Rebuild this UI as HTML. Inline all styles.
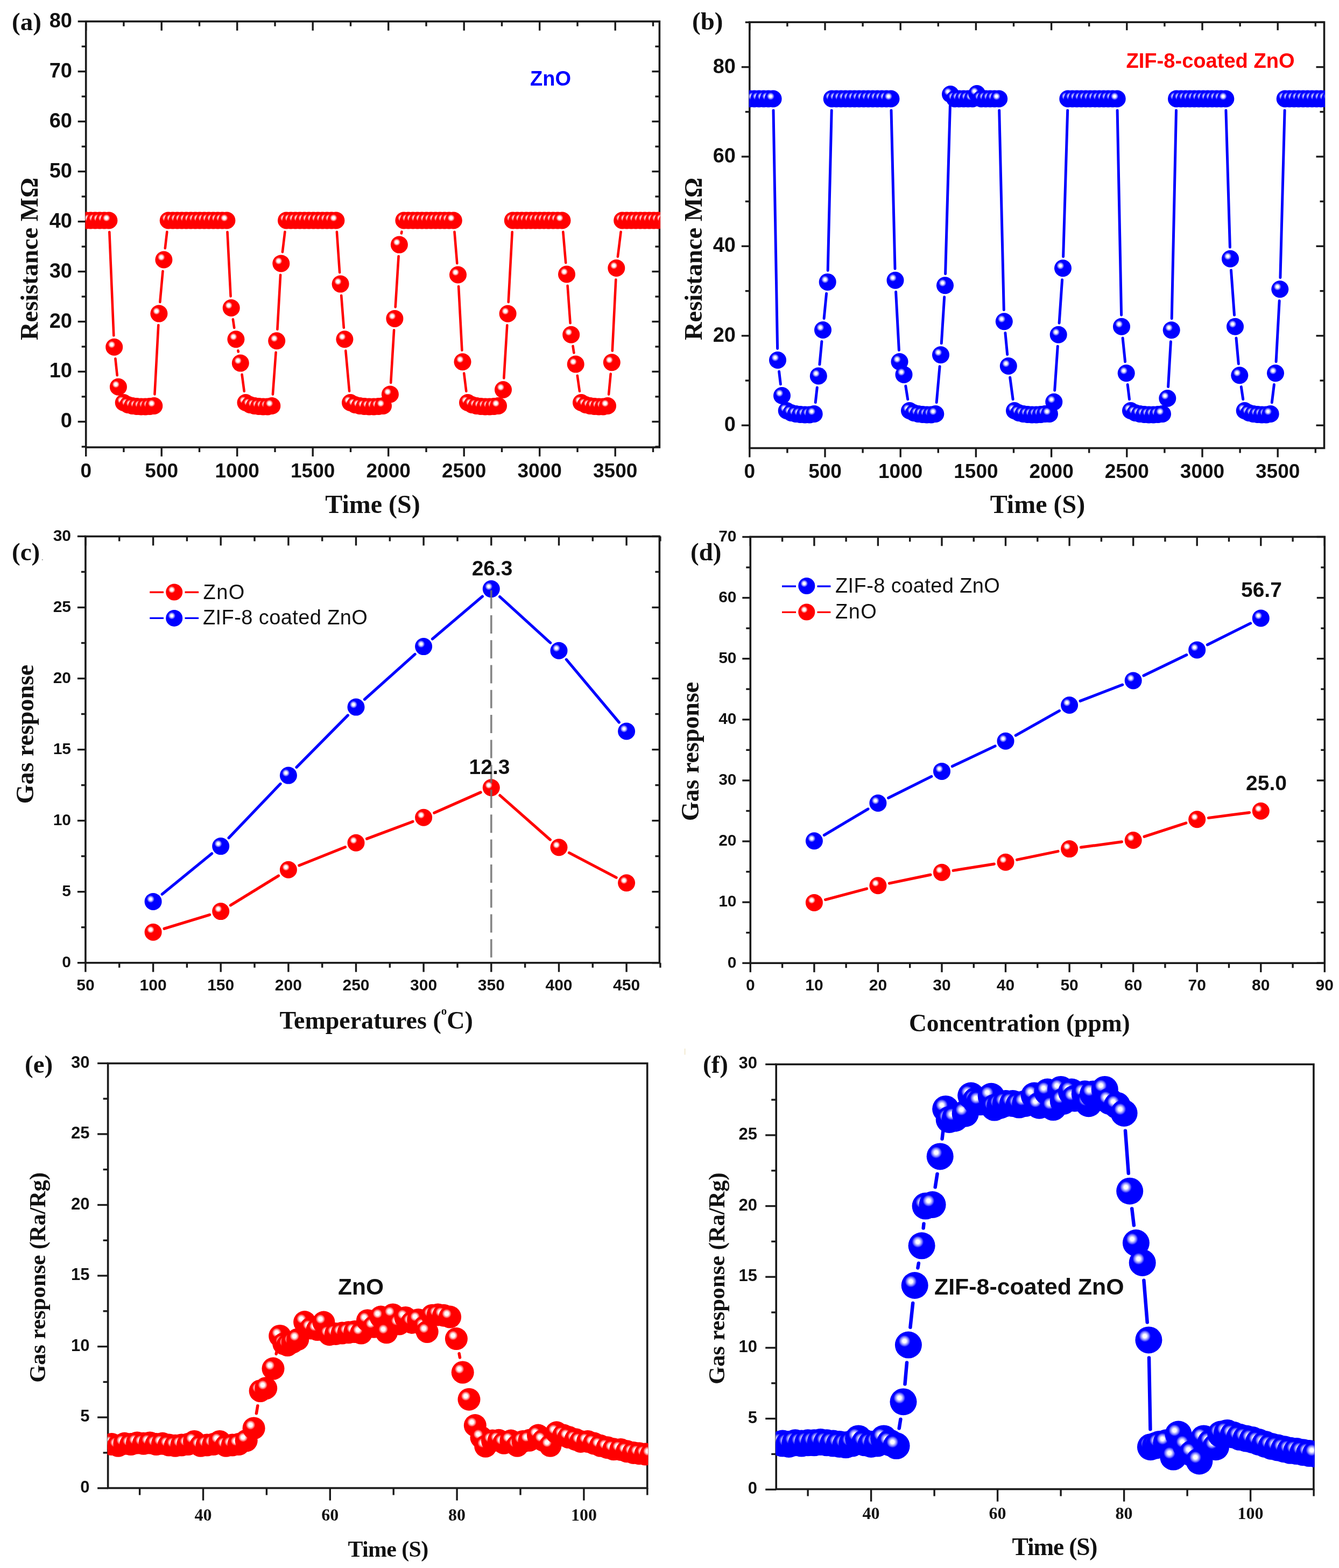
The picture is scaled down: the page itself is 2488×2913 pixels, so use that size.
<!DOCTYPE html>
<html><head><meta charset="utf-8"><title>Gas sensing figure</title>
<style>html,body{margin:0;padding:0;background:#fff;overflow:hidden;}svg{display:block;}</style></head>
<body><svg width="2488" height="2913" viewBox="0 0 2488 2913">
<rect width="2488" height="2913" fill="#fff"/>
<defs>
<radialGradient id="gR" cx="0.355" cy="0.355" r="0.21">
<stop offset="0" stop-color="#ffffff"/><stop offset="0.38" stop-color="#ffffff"/><stop offset="0.7" stop-color="#ff9090"/><stop offset="1" stop-color="#ff0000"/>
</radialGradient>
<radialGradient id="gB" cx="0.355" cy="0.355" r="0.22">
<stop offset="0" stop-color="#ffffff"/><stop offset="0.3" stop-color="#ffffff"/><stop offset="0.65" stop-color="#9090ff"/><stop offset="1" stop-color="#0000ff"/>
</radialGradient>
</defs>
<clipPath id="ca"><rect x="158.7" y="39.8" width="1068.2" height="791.2"/></clipPath>
<rect x="159.7" y="39.8" width="1065.7" height="791.2" fill="none" stroke="#1a1a1a" stroke-width="3.6"/>
<line x1="144.7" y1="783.4" x2="159.7" y2="783.4" stroke="#1a1a1a" stroke-width="3.4"/>
<line x1="144.7" y1="690.4" x2="159.7" y2="690.4" stroke="#1a1a1a" stroke-width="3.4"/>
<line x1="144.7" y1="597.5" x2="159.7" y2="597.5" stroke="#1a1a1a" stroke-width="3.4"/>
<line x1="144.7" y1="504.5" x2="159.7" y2="504.5" stroke="#1a1a1a" stroke-width="3.4"/>
<line x1="144.7" y1="411.6" x2="159.7" y2="411.6" stroke="#1a1a1a" stroke-width="3.4"/>
<line x1="144.7" y1="318.6" x2="159.7" y2="318.6" stroke="#1a1a1a" stroke-width="3.4"/>
<line x1="144.7" y1="225.7" x2="159.7" y2="225.7" stroke="#1a1a1a" stroke-width="3.4"/>
<line x1="144.7" y1="132.8" x2="159.7" y2="132.8" stroke="#1a1a1a" stroke-width="3.4"/>
<line x1="144.7" y1="39.8" x2="159.7" y2="39.8" stroke="#1a1a1a" stroke-width="3.4"/>
<line x1="151.7" y1="829.9" x2="159.7" y2="829.9" stroke="#1a1a1a" stroke-width="3.4"/>
<line x1="151.7" y1="736.9" x2="159.7" y2="736.9" stroke="#1a1a1a" stroke-width="3.4"/>
<line x1="151.7" y1="644" x2="159.7" y2="644" stroke="#1a1a1a" stroke-width="3.4"/>
<line x1="151.7" y1="551" x2="159.7" y2="551" stroke="#1a1a1a" stroke-width="3.4"/>
<line x1="151.7" y1="458.1" x2="159.7" y2="458.1" stroke="#1a1a1a" stroke-width="3.4"/>
<line x1="151.7" y1="365.1" x2="159.7" y2="365.1" stroke="#1a1a1a" stroke-width="3.4"/>
<line x1="151.7" y1="272.2" x2="159.7" y2="272.2" stroke="#1a1a1a" stroke-width="3.4"/>
<line x1="151.7" y1="179.2" x2="159.7" y2="179.2" stroke="#1a1a1a" stroke-width="3.4"/>
<line x1="151.7" y1="86.3" x2="159.7" y2="86.3" stroke="#1a1a1a" stroke-width="3.4"/>
<line x1="1211.4" y1="783.4" x2="1225.4" y2="783.4" stroke="#1a1a1a" stroke-width="3.4"/>
<line x1="1211.4" y1="690.4" x2="1225.4" y2="690.4" stroke="#1a1a1a" stroke-width="3.4"/>
<line x1="1211.4" y1="597.5" x2="1225.4" y2="597.5" stroke="#1a1a1a" stroke-width="3.4"/>
<line x1="1211.4" y1="504.5" x2="1225.4" y2="504.5" stroke="#1a1a1a" stroke-width="3.4"/>
<line x1="1211.4" y1="411.6" x2="1225.4" y2="411.6" stroke="#1a1a1a" stroke-width="3.4"/>
<line x1="1211.4" y1="318.6" x2="1225.4" y2="318.6" stroke="#1a1a1a" stroke-width="3.4"/>
<line x1="1211.4" y1="225.7" x2="1225.4" y2="225.7" stroke="#1a1a1a" stroke-width="3.4"/>
<line x1="1211.4" y1="132.8" x2="1225.4" y2="132.8" stroke="#1a1a1a" stroke-width="3.4"/>
<line x1="1211.4" y1="39.8" x2="1225.4" y2="39.8" stroke="#1a1a1a" stroke-width="3.4"/>
<line x1="1217.4" y1="829.9" x2="1225.4" y2="829.9" stroke="#1a1a1a" stroke-width="3.4"/>
<line x1="1217.4" y1="736.9" x2="1225.4" y2="736.9" stroke="#1a1a1a" stroke-width="3.4"/>
<line x1="1217.4" y1="644" x2="1225.4" y2="644" stroke="#1a1a1a" stroke-width="3.4"/>
<line x1="1217.4" y1="551" x2="1225.4" y2="551" stroke="#1a1a1a" stroke-width="3.4"/>
<line x1="1217.4" y1="458.1" x2="1225.4" y2="458.1" stroke="#1a1a1a" stroke-width="3.4"/>
<line x1="1217.4" y1="365.1" x2="1225.4" y2="365.1" stroke="#1a1a1a" stroke-width="3.4"/>
<line x1="1217.4" y1="272.2" x2="1225.4" y2="272.2" stroke="#1a1a1a" stroke-width="3.4"/>
<line x1="1217.4" y1="179.2" x2="1225.4" y2="179.2" stroke="#1a1a1a" stroke-width="3.4"/>
<line x1="1217.4" y1="86.3" x2="1225.4" y2="86.3" stroke="#1a1a1a" stroke-width="3.4"/>
<line x1="159.7" y1="831" x2="159.7" y2="848" stroke="#1a1a1a" stroke-width="3.4"/>
<line x1="300.2" y1="831" x2="300.2" y2="848" stroke="#1a1a1a" stroke-width="3.4"/>
<line x1="440.7" y1="831" x2="440.7" y2="848" stroke="#1a1a1a" stroke-width="3.4"/>
<line x1="581.2" y1="831" x2="581.2" y2="848" stroke="#1a1a1a" stroke-width="3.4"/>
<line x1="721.7" y1="831" x2="721.7" y2="848" stroke="#1a1a1a" stroke-width="3.4"/>
<line x1="862.2" y1="831" x2="862.2" y2="848" stroke="#1a1a1a" stroke-width="3.4"/>
<line x1="1002.7" y1="831" x2="1002.7" y2="848" stroke="#1a1a1a" stroke-width="3.4"/>
<line x1="1143.2" y1="831" x2="1143.2" y2="848" stroke="#1a1a1a" stroke-width="3.4"/>
<line x1="229.9" y1="831" x2="229.9" y2="840" stroke="#1a1a1a" stroke-width="3.4"/>
<line x1="370.5" y1="831" x2="370.5" y2="840" stroke="#1a1a1a" stroke-width="3.4"/>
<line x1="511" y1="831" x2="511" y2="840" stroke="#1a1a1a" stroke-width="3.4"/>
<line x1="651.5" y1="831" x2="651.5" y2="840" stroke="#1a1a1a" stroke-width="3.4"/>
<line x1="792" y1="831" x2="792" y2="840" stroke="#1a1a1a" stroke-width="3.4"/>
<line x1="932.5" y1="831" x2="932.5" y2="840" stroke="#1a1a1a" stroke-width="3.4"/>
<line x1="1073" y1="831" x2="1073" y2="840" stroke="#1a1a1a" stroke-width="3.4"/>
<line x1="1213.5" y1="831" x2="1213.5" y2="840" stroke="#1a1a1a" stroke-width="3.4"/>
<line x1="159.7" y1="39.8" x2="159.7" y2="56.8" stroke="#1a1a1a" stroke-width="3.4"/>
<line x1="300.2" y1="39.8" x2="300.2" y2="56.8" stroke="#1a1a1a" stroke-width="3.4"/>
<line x1="440.7" y1="39.8" x2="440.7" y2="56.8" stroke="#1a1a1a" stroke-width="3.4"/>
<line x1="581.2" y1="39.8" x2="581.2" y2="56.8" stroke="#1a1a1a" stroke-width="3.4"/>
<line x1="721.7" y1="39.8" x2="721.7" y2="56.8" stroke="#1a1a1a" stroke-width="3.4"/>
<line x1="862.2" y1="39.8" x2="862.2" y2="56.8" stroke="#1a1a1a" stroke-width="3.4"/>
<line x1="1002.7" y1="39.8" x2="1002.7" y2="56.8" stroke="#1a1a1a" stroke-width="3.4"/>
<line x1="1143.2" y1="39.8" x2="1143.2" y2="56.8" stroke="#1a1a1a" stroke-width="3.4"/>
<line x1="229.9" y1="39.8" x2="229.9" y2="48.8" stroke="#1a1a1a" stroke-width="3.4"/>
<line x1="370.5" y1="39.8" x2="370.5" y2="48.8" stroke="#1a1a1a" stroke-width="3.4"/>
<line x1="511" y1="39.8" x2="511" y2="48.8" stroke="#1a1a1a" stroke-width="3.4"/>
<line x1="651.5" y1="39.8" x2="651.5" y2="48.8" stroke="#1a1a1a" stroke-width="3.4"/>
<line x1="792" y1="39.8" x2="792" y2="48.8" stroke="#1a1a1a" stroke-width="3.4"/>
<line x1="932.5" y1="39.8" x2="932.5" y2="48.8" stroke="#1a1a1a" stroke-width="3.4"/>
<line x1="1073" y1="39.8" x2="1073" y2="48.8" stroke="#1a1a1a" stroke-width="3.4"/>
<line x1="1213.5" y1="39.8" x2="1213.5" y2="48.8" stroke="#1a1a1a" stroke-width="3.4"/>
<g clip-path="url(#ca)">
<path d="M203.3 431L211.3 623.3M214.4 666.2L217.7 697.3M287.4 732.5L294.3 604.1M297.3 561.2L302.5 503.9M306.8 461.1L310.3 430.9M422.5 431L428.6 550.5M432.9 593.3L435.2 608.9M442.4 651.3L442.8 653.5M449.6 695.9L453.7 726.7M506.9 732.6L512.6 654.7M515.4 611.8L521.1 510.9M524.9 468.1L529.4 430.8M625.9 430.9L631.1 506.2M634.2 549L638.8 608.8M642.3 651.6L649.1 726.6M726.2 711L732.1 613.4M734.7 570.4L740.6 476.1M745.9 433.5L746.4 430.6M844.5 430.9L849.3 489.1M852.1 532L858.4 650.7M862.2 693.5L866.3 726.7M936.3 702.5L942.3 604.2M944.7 561.2L951.7 431M1046.3 430.9L1051.2 488.1M1054.6 530.9L1059.6 600.3M1064.5 642.9L1066.4 655.4M1072.8 697.9L1076.9 726.7M1131.1 732.6L1134.7 694.6M1137.8 651.7L1144.3 519.5M1147.9 476.7L1153.6 430.8" stroke="#ff0000" stroke-width="4.6" stroke-linecap="round" fill="none"/>
<circle cx="159.7" cy="409.5" r="16" fill="url(#gR)"/>
<circle cx="168.2" cy="409.5" r="16" fill="url(#gR)"/>
<circle cx="176.8" cy="409.5" r="16" fill="url(#gR)"/>
<circle cx="185.3" cy="409.5" r="16" fill="url(#gR)"/>
<circle cx="193.9" cy="409.5" r="16" fill="url(#gR)"/>
<circle cx="202.4" cy="409.5" r="16" fill="url(#gR)"/>
<circle cx="212.2" cy="644.8" r="16" fill="url(#gR)"/>
<circle cx="219.9" cy="718.7" r="16" fill="url(#gR)"/>
<circle cx="229.7" cy="748" r="16" fill="url(#gR)"/>
<circle cx="237.8" cy="752" r="16" fill="url(#gR)"/>
<circle cx="245.9" cy="754" r="16" fill="url(#gR)"/>
<circle cx="254" cy="755" r="16" fill="url(#gR)"/>
<circle cx="262" cy="755.5" r="16" fill="url(#gR)"/>
<circle cx="270.1" cy="755.5" r="16" fill="url(#gR)"/>
<circle cx="278.2" cy="755" r="16" fill="url(#gR)"/>
<circle cx="286.3" cy="754" r="16" fill="url(#gR)"/>
<circle cx="295.4" cy="582.6" r="16" fill="url(#gR)"/>
<circle cx="304.4" cy="482.5" r="16" fill="url(#gR)"/>
<circle cx="312.7" cy="409.5" r="16" fill="url(#gR)"/>
<circle cx="321.1" cy="409.5" r="16" fill="url(#gR)"/>
<circle cx="329.4" cy="409.5" r="16" fill="url(#gR)"/>
<circle cx="337.8" cy="409.5" r="16" fill="url(#gR)"/>
<circle cx="346.1" cy="409.5" r="16" fill="url(#gR)"/>
<circle cx="354.5" cy="409.5" r="16" fill="url(#gR)"/>
<circle cx="362.9" cy="409.5" r="16" fill="url(#gR)"/>
<circle cx="371.2" cy="409.5" r="16" fill="url(#gR)"/>
<circle cx="379.6" cy="409.5" r="16" fill="url(#gR)"/>
<circle cx="388" cy="409.5" r="16" fill="url(#gR)"/>
<circle cx="396.3" cy="409.5" r="16" fill="url(#gR)"/>
<circle cx="404.7" cy="409.5" r="16" fill="url(#gR)"/>
<circle cx="413" cy="409.5" r="16" fill="url(#gR)"/>
<circle cx="421.4" cy="409.5" r="16" fill="url(#gR)"/>
<circle cx="429.7" cy="572" r="16" fill="url(#gR)"/>
<circle cx="438.4" cy="630.2" r="16" fill="url(#gR)"/>
<circle cx="446.8" cy="674.6" r="16" fill="url(#gR)"/>
<circle cx="456.5" cy="748" r="16" fill="url(#gR)"/>
<circle cx="464.6" cy="752" r="16" fill="url(#gR)"/>
<circle cx="472.8" cy="754" r="16" fill="url(#gR)"/>
<circle cx="480.9" cy="755" r="16" fill="url(#gR)"/>
<circle cx="489" cy="755.5" r="16" fill="url(#gR)"/>
<circle cx="497.2" cy="755.5" r="16" fill="url(#gR)"/>
<circle cx="505.3" cy="754" r="16" fill="url(#gR)"/>
<circle cx="514.2" cy="633.3" r="16" fill="url(#gR)"/>
<circle cx="522.3" cy="489.4" r="16" fill="url(#gR)"/>
<circle cx="532" cy="409.5" r="16" fill="url(#gR)"/>
<circle cx="540.4" cy="409.5" r="16" fill="url(#gR)"/>
<circle cx="548.8" cy="409.5" r="16" fill="url(#gR)"/>
<circle cx="557.2" cy="409.5" r="16" fill="url(#gR)"/>
<circle cx="565.6" cy="409.5" r="16" fill="url(#gR)"/>
<circle cx="574" cy="409.5" r="16" fill="url(#gR)"/>
<circle cx="582.4" cy="409.5" r="16" fill="url(#gR)"/>
<circle cx="590.8" cy="409.5" r="16" fill="url(#gR)"/>
<circle cx="599.2" cy="409.5" r="16" fill="url(#gR)"/>
<circle cx="607.6" cy="409.5" r="16" fill="url(#gR)"/>
<circle cx="616" cy="409.5" r="16" fill="url(#gR)"/>
<circle cx="624.4" cy="409.5" r="16" fill="url(#gR)"/>
<circle cx="632.6" cy="527.6" r="16" fill="url(#gR)"/>
<circle cx="640.4" cy="630.2" r="16" fill="url(#gR)"/>
<circle cx="651" cy="748" r="16" fill="url(#gR)"/>
<circle cx="659.7" cy="752" r="16" fill="url(#gR)"/>
<circle cx="668.4" cy="754" r="16" fill="url(#gR)"/>
<circle cx="677.1" cy="755" r="16" fill="url(#gR)"/>
<circle cx="685.9" cy="755.5" r="16" fill="url(#gR)"/>
<circle cx="694.6" cy="755.5" r="16" fill="url(#gR)"/>
<circle cx="703.3" cy="755" r="16" fill="url(#gR)"/>
<circle cx="712" cy="754" r="16" fill="url(#gR)"/>
<circle cx="724.9" cy="732.5" r="16" fill="url(#gR)"/>
<circle cx="733.4" cy="591.9" r="16" fill="url(#gR)"/>
<circle cx="741.9" cy="454.6" r="16" fill="url(#gR)"/>
<circle cx="750.4" cy="409.5" r="16" fill="url(#gR)"/>
<circle cx="758.8" cy="409.5" r="16" fill="url(#gR)"/>
<circle cx="767.2" cy="409.5" r="16" fill="url(#gR)"/>
<circle cx="775.6" cy="409.5" r="16" fill="url(#gR)"/>
<circle cx="784" cy="409.5" r="16" fill="url(#gR)"/>
<circle cx="792.4" cy="409.5" r="16" fill="url(#gR)"/>
<circle cx="800.8" cy="409.5" r="16" fill="url(#gR)"/>
<circle cx="809.2" cy="409.5" r="16" fill="url(#gR)"/>
<circle cx="817.6" cy="409.5" r="16" fill="url(#gR)"/>
<circle cx="826" cy="409.5" r="16" fill="url(#gR)"/>
<circle cx="834.4" cy="409.5" r="16" fill="url(#gR)"/>
<circle cx="842.8" cy="409.5" r="16" fill="url(#gR)"/>
<circle cx="851" cy="510.5" r="16" fill="url(#gR)"/>
<circle cx="859.5" cy="672.2" r="16" fill="url(#gR)"/>
<circle cx="869" cy="748" r="16" fill="url(#gR)"/>
<circle cx="877.1" cy="752" r="16" fill="url(#gR)"/>
<circle cx="885.3" cy="754" r="16" fill="url(#gR)"/>
<circle cx="893.4" cy="755" r="16" fill="url(#gR)"/>
<circle cx="901.6" cy="755.5" r="16" fill="url(#gR)"/>
<circle cx="909.7" cy="755.5" r="16" fill="url(#gR)"/>
<circle cx="917.9" cy="755" r="16" fill="url(#gR)"/>
<circle cx="926" cy="754" r="16" fill="url(#gR)"/>
<circle cx="935" cy="724" r="16" fill="url(#gR)"/>
<circle cx="943.6" cy="582.7" r="16" fill="url(#gR)"/>
<circle cx="952.8" cy="409.5" r="16" fill="url(#gR)"/>
<circle cx="961.1" cy="409.5" r="16" fill="url(#gR)"/>
<circle cx="969.5" cy="409.5" r="16" fill="url(#gR)"/>
<circle cx="977.8" cy="409.5" r="16" fill="url(#gR)"/>
<circle cx="986.1" cy="409.5" r="16" fill="url(#gR)"/>
<circle cx="994.5" cy="409.5" r="16" fill="url(#gR)"/>
<circle cx="1002.8" cy="409.5" r="16" fill="url(#gR)"/>
<circle cx="1011.2" cy="409.5" r="16" fill="url(#gR)"/>
<circle cx="1019.5" cy="409.5" r="16" fill="url(#gR)"/>
<circle cx="1027.8" cy="409.5" r="16" fill="url(#gR)"/>
<circle cx="1036.2" cy="409.5" r="16" fill="url(#gR)"/>
<circle cx="1044.5" cy="409.5" r="16" fill="url(#gR)"/>
<circle cx="1053" cy="509.5" r="16" fill="url(#gR)"/>
<circle cx="1061.2" cy="621.7" r="16" fill="url(#gR)"/>
<circle cx="1069.7" cy="676.6" r="16" fill="url(#gR)"/>
<circle cx="1080" cy="748" r="16" fill="url(#gR)"/>
<circle cx="1088.2" cy="752" r="16" fill="url(#gR)"/>
<circle cx="1096.3" cy="754" r="16" fill="url(#gR)"/>
<circle cx="1104.5" cy="755" r="16" fill="url(#gR)"/>
<circle cx="1112.7" cy="755.5" r="16" fill="url(#gR)"/>
<circle cx="1120.8" cy="755.5" r="16" fill="url(#gR)"/>
<circle cx="1129" cy="754" r="16" fill="url(#gR)"/>
<circle cx="1136.8" cy="673.2" r="16" fill="url(#gR)"/>
<circle cx="1145.3" cy="498" r="16" fill="url(#gR)"/>
<circle cx="1156.2" cy="409.5" r="16" fill="url(#gR)"/>
<circle cx="1164.6" cy="409.5" r="16" fill="url(#gR)"/>
<circle cx="1173" cy="409.5" r="16" fill="url(#gR)"/>
<circle cx="1181.3" cy="409.5" r="16" fill="url(#gR)"/>
<circle cx="1189.7" cy="409.5" r="16" fill="url(#gR)"/>
<circle cx="1198.1" cy="409.5" r="16" fill="url(#gR)"/>
<circle cx="1206.5" cy="409.5" r="16" fill="url(#gR)"/>
<circle cx="1214.9" cy="409.5" r="16" fill="url(#gR)"/>
<circle cx="1223.2" cy="409.5" r="16" fill="url(#gR)"/>
<circle cx="1231.6" cy="409.5" r="16" fill="url(#gR)"/>
<circle cx="1240" cy="409.5" r="16" fill="url(#gR)"/>
</g>
<text x="134" y="794.4" font-family="'Liberation Sans', Arial, sans-serif" font-size="38" font-weight="bold" text-anchor="end" fill="#111">0</text>
<text x="134" y="701.4" font-family="'Liberation Sans', Arial, sans-serif" font-size="38" font-weight="bold" text-anchor="end" fill="#111">10</text>
<text x="134" y="608.5" font-family="'Liberation Sans', Arial, sans-serif" font-size="38" font-weight="bold" text-anchor="end" fill="#111">20</text>
<text x="134" y="515.5" font-family="'Liberation Sans', Arial, sans-serif" font-size="38" font-weight="bold" text-anchor="end" fill="#111">30</text>
<text x="134" y="422.6" font-family="'Liberation Sans', Arial, sans-serif" font-size="38" font-weight="bold" text-anchor="end" fill="#111">40</text>
<text x="134" y="329.6" font-family="'Liberation Sans', Arial, sans-serif" font-size="38" font-weight="bold" text-anchor="end" fill="#111">50</text>
<text x="134" y="236.7" font-family="'Liberation Sans', Arial, sans-serif" font-size="38" font-weight="bold" text-anchor="end" fill="#111">60</text>
<text x="134" y="143.8" font-family="'Liberation Sans', Arial, sans-serif" font-size="38" font-weight="bold" text-anchor="end" fill="#111">70</text>
<text x="134" y="50.8" font-family="'Liberation Sans', Arial, sans-serif" font-size="38" font-weight="bold" text-anchor="end" fill="#111">80</text>
<text x="159.7" y="887" font-family="'Liberation Sans', Arial, sans-serif" font-size="37" font-weight="bold" text-anchor="middle" fill="#111">0</text>
<text x="300.2" y="887" font-family="'Liberation Sans', Arial, sans-serif" font-size="37" font-weight="bold" text-anchor="middle" fill="#111">500</text>
<text x="440.7" y="887" font-family="'Liberation Sans', Arial, sans-serif" font-size="37" font-weight="bold" text-anchor="middle" fill="#111">1000</text>
<text x="581.2" y="887" font-family="'Liberation Sans', Arial, sans-serif" font-size="37" font-weight="bold" text-anchor="middle" fill="#111">1500</text>
<text x="721.7" y="887" font-family="'Liberation Sans', Arial, sans-serif" font-size="37" font-weight="bold" text-anchor="middle" fill="#111">2000</text>
<text x="862.2" y="887" font-family="'Liberation Sans', Arial, sans-serif" font-size="37" font-weight="bold" text-anchor="middle" fill="#111">2500</text>
<text x="1002.7" y="887" font-family="'Liberation Sans', Arial, sans-serif" font-size="37" font-weight="bold" text-anchor="middle" fill="#111">3000</text>
<text x="1143.2" y="887" font-family="'Liberation Sans', Arial, sans-serif" font-size="37" font-weight="bold" text-anchor="middle" fill="#111">3500</text>
<text x="692.5" y="953" font-family="'Liberation Serif', 'Times New Roman', serif" font-size="48" font-weight="bold" text-anchor="middle" fill="#111">Time (S)</text>
<text x="69.5" y="481" font-family="'Liberation Serif', 'Times New Roman', serif" font-size="46.5" font-weight="bold" text-anchor="middle" fill="#111" transform="rotate(-90 69.5 481)">Resistance M&#937;</text>
<text x="985" y="158.5" font-family="'Liberation Sans', Arial, sans-serif" font-size="38" font-weight="bold" text-anchor="start" fill="#0000ff">ZnO</text>
<text x="22" y="55.5" font-family="'Liberation Serif', 'Times New Roman', serif" font-size="47" font-weight="bold" text-anchor="start" fill="#111">(a)</text>
<clipPath id="cb"><rect x="1391.8" y="41.2" width="1070.2" height="791.3"/></clipPath>
<rect x="1392.8" y="41.2" width="1067.7" height="791.3" fill="none" stroke="#1a1a1a" stroke-width="3.6"/>
<line x1="1377.8" y1="790.2" x2="1392.8" y2="790.2" stroke="#1a1a1a" stroke-width="3.4"/>
<line x1="1377.8" y1="623.8" x2="1392.8" y2="623.8" stroke="#1a1a1a" stroke-width="3.4"/>
<line x1="1377.8" y1="457.4" x2="1392.8" y2="457.4" stroke="#1a1a1a" stroke-width="3.4"/>
<line x1="1377.8" y1="291" x2="1392.8" y2="291" stroke="#1a1a1a" stroke-width="3.4"/>
<line x1="1377.8" y1="124.6" x2="1392.8" y2="124.6" stroke="#1a1a1a" stroke-width="3.4"/>
<line x1="1384.8" y1="707" x2="1392.8" y2="707" stroke="#1a1a1a" stroke-width="3.4"/>
<line x1="1384.8" y1="540.6" x2="1392.8" y2="540.6" stroke="#1a1a1a" stroke-width="3.4"/>
<line x1="1384.8" y1="374.2" x2="1392.8" y2="374.2" stroke="#1a1a1a" stroke-width="3.4"/>
<line x1="1384.8" y1="207.8" x2="1392.8" y2="207.8" stroke="#1a1a1a" stroke-width="3.4"/>
<line x1="1384.8" y1="41.4" x2="1392.8" y2="41.4" stroke="#1a1a1a" stroke-width="3.4"/>
<line x1="2445.5" y1="790.2" x2="2460.5" y2="790.2" stroke="#1a1a1a" stroke-width="3.4"/>
<line x1="2445.5" y1="623.8" x2="2460.5" y2="623.8" stroke="#1a1a1a" stroke-width="3.4"/>
<line x1="2445.5" y1="457.4" x2="2460.5" y2="457.4" stroke="#1a1a1a" stroke-width="3.4"/>
<line x1="2445.5" y1="291" x2="2460.5" y2="291" stroke="#1a1a1a" stroke-width="3.4"/>
<line x1="2445.5" y1="124.6" x2="2460.5" y2="124.6" stroke="#1a1a1a" stroke-width="3.4"/>
<line x1="2452.5" y1="707" x2="2460.5" y2="707" stroke="#1a1a1a" stroke-width="3.4"/>
<line x1="2452.5" y1="540.6" x2="2460.5" y2="540.6" stroke="#1a1a1a" stroke-width="3.4"/>
<line x1="2452.5" y1="374.2" x2="2460.5" y2="374.2" stroke="#1a1a1a" stroke-width="3.4"/>
<line x1="2452.5" y1="207.8" x2="2460.5" y2="207.8" stroke="#1a1a1a" stroke-width="3.4"/>
<line x1="2452.5" y1="41.4" x2="2460.5" y2="41.4" stroke="#1a1a1a" stroke-width="3.4"/>
<line x1="1392.8" y1="832.5" x2="1392.8" y2="849.5" stroke="#1a1a1a" stroke-width="3.4"/>
<line x1="1533" y1="832.5" x2="1533" y2="849.5" stroke="#1a1a1a" stroke-width="3.4"/>
<line x1="1673.2" y1="832.5" x2="1673.2" y2="849.5" stroke="#1a1a1a" stroke-width="3.4"/>
<line x1="1813.4" y1="832.5" x2="1813.4" y2="849.5" stroke="#1a1a1a" stroke-width="3.4"/>
<line x1="1953.6" y1="832.5" x2="1953.6" y2="849.5" stroke="#1a1a1a" stroke-width="3.4"/>
<line x1="2093.8" y1="832.5" x2="2093.8" y2="849.5" stroke="#1a1a1a" stroke-width="3.4"/>
<line x1="2234" y1="832.5" x2="2234" y2="849.5" stroke="#1a1a1a" stroke-width="3.4"/>
<line x1="2374.2" y1="832.5" x2="2374.2" y2="849.5" stroke="#1a1a1a" stroke-width="3.4"/>
<line x1="1462.9" y1="832.5" x2="1462.9" y2="841.5" stroke="#1a1a1a" stroke-width="3.4"/>
<line x1="1603.1" y1="832.5" x2="1603.1" y2="841.5" stroke="#1a1a1a" stroke-width="3.4"/>
<line x1="1743.3" y1="832.5" x2="1743.3" y2="841.5" stroke="#1a1a1a" stroke-width="3.4"/>
<line x1="1883.5" y1="832.5" x2="1883.5" y2="841.5" stroke="#1a1a1a" stroke-width="3.4"/>
<line x1="2023.7" y1="832.5" x2="2023.7" y2="841.5" stroke="#1a1a1a" stroke-width="3.4"/>
<line x1="2163.9" y1="832.5" x2="2163.9" y2="841.5" stroke="#1a1a1a" stroke-width="3.4"/>
<line x1="2304.1" y1="832.5" x2="2304.1" y2="841.5" stroke="#1a1a1a" stroke-width="3.4"/>
<line x1="2444.3" y1="832.5" x2="2444.3" y2="841.5" stroke="#1a1a1a" stroke-width="3.4"/>
<line x1="1392.8" y1="41.2" x2="1392.8" y2="56.2" stroke="#1a1a1a" stroke-width="3.4"/>
<line x1="1533" y1="41.2" x2="1533" y2="56.2" stroke="#1a1a1a" stroke-width="3.4"/>
<line x1="1673.2" y1="41.2" x2="1673.2" y2="56.2" stroke="#1a1a1a" stroke-width="3.4"/>
<line x1="1813.4" y1="41.2" x2="1813.4" y2="56.2" stroke="#1a1a1a" stroke-width="3.4"/>
<line x1="1953.6" y1="41.2" x2="1953.6" y2="56.2" stroke="#1a1a1a" stroke-width="3.4"/>
<line x1="2093.8" y1="41.2" x2="2093.8" y2="56.2" stroke="#1a1a1a" stroke-width="3.4"/>
<line x1="2234" y1="41.2" x2="2234" y2="56.2" stroke="#1a1a1a" stroke-width="3.4"/>
<line x1="2374.2" y1="41.2" x2="2374.2" y2="56.2" stroke="#1a1a1a" stroke-width="3.4"/>
<line x1="1462.9" y1="41.2" x2="1462.9" y2="49.2" stroke="#1a1a1a" stroke-width="3.4"/>
<line x1="1603.1" y1="41.2" x2="1603.1" y2="49.2" stroke="#1a1a1a" stroke-width="3.4"/>
<line x1="1743.3" y1="41.2" x2="1743.3" y2="49.2" stroke="#1a1a1a" stroke-width="3.4"/>
<line x1="1883.5" y1="41.2" x2="1883.5" y2="49.2" stroke="#1a1a1a" stroke-width="3.4"/>
<line x1="2023.7" y1="41.2" x2="2023.7" y2="49.2" stroke="#1a1a1a" stroke-width="3.4"/>
<line x1="2163.9" y1="41.2" x2="2163.9" y2="49.2" stroke="#1a1a1a" stroke-width="3.4"/>
<line x1="2304.1" y1="41.2" x2="2304.1" y2="49.2" stroke="#1a1a1a" stroke-width="3.4"/>
<line x1="2444.3" y1="41.2" x2="2444.3" y2="49.2" stroke="#1a1a1a" stroke-width="3.4"/>
<g clip-path="url(#cb)">
<path d="M1437 205L1444.6 647.5M1447.6 690.3L1450.4 713.7M1515.2 747.6L1518.3 719.9M1522.9 677.1L1526.9 634.4M1531.1 591.6L1535.6 545.3M1538.2 502.4L1545.2 205M1656 205L1663 499.2M1664.6 542.2L1670.4 650.5M1682.8 717.1L1686.7 741.8M1740.2 747.6L1746.1 680.7M1749.3 637.8L1754.7 551.8M1756.6 508.8L1765.4 196.5M1856.7 205L1865.3 575.7M1867.9 618.6L1871.7 658.6M1876.7 701.3L1882.1 741.7M1959.7 725.2L1965.3 643.2M1968.1 600.2L1973.6 519.8M1975.6 476.8L1983.7 205M2076.1 205L2083.6 585.2M2086.1 628.1L2090.6 671.9M2095.2 714.6L2098.5 741.7M2170.6 718.5L2175.4 634.8M2177.2 591.8L2185.5 205M2277.9 205L2285.4 459.2M2287.5 502.1L2293.5 585.3M2297 628.1L2301.3 675.9M2306.3 718.6L2309.7 741.7M2363.3 747.7L2367.4 714.6M2371.1 671.8L2377.2 558.8M2378.9 515.8L2387.1 205" stroke="#0000ff" stroke-width="5" stroke-linecap="round" fill="none"/>
<circle cx="1392.8" cy="183.5" r="16" fill="url(#gB)"/>
<circle cx="1401.6" cy="183.5" r="16" fill="url(#gB)"/>
<circle cx="1410.3" cy="183.5" r="16" fill="url(#gB)"/>
<circle cx="1419.1" cy="183.5" r="16" fill="url(#gB)"/>
<circle cx="1427.8" cy="183.5" r="16" fill="url(#gB)"/>
<circle cx="1436.6" cy="183.5" r="16" fill="url(#gB)"/>
<circle cx="1445" cy="669" r="16" fill="url(#gB)"/>
<circle cx="1453" cy="735" r="16" fill="url(#gB)"/>
<circle cx="1461.7" cy="763" r="16" fill="url(#gB)"/>
<circle cx="1470.2" cy="767" r="16" fill="url(#gB)"/>
<circle cx="1478.7" cy="769" r="16" fill="url(#gB)"/>
<circle cx="1487.2" cy="770" r="16" fill="url(#gB)"/>
<circle cx="1495.7" cy="770.5" r="16" fill="url(#gB)"/>
<circle cx="1504.2" cy="770.5" r="16" fill="url(#gB)"/>
<circle cx="1512.7" cy="769" r="16" fill="url(#gB)"/>
<circle cx="1520.8" cy="698.5" r="16" fill="url(#gB)"/>
<circle cx="1529" cy="613" r="16" fill="url(#gB)"/>
<circle cx="1537.7" cy="523.9" r="16" fill="url(#gB)"/>
<circle cx="1545.7" cy="183.5" r="16" fill="url(#gB)"/>
<circle cx="1554.1" cy="183.5" r="16" fill="url(#gB)"/>
<circle cx="1562.6" cy="183.5" r="16" fill="url(#gB)"/>
<circle cx="1571" cy="183.5" r="16" fill="url(#gB)"/>
<circle cx="1579.5" cy="183.5" r="16" fill="url(#gB)"/>
<circle cx="1587.9" cy="183.5" r="16" fill="url(#gB)"/>
<circle cx="1596.4" cy="183.5" r="16" fill="url(#gB)"/>
<circle cx="1604.8" cy="183.5" r="16" fill="url(#gB)"/>
<circle cx="1613.3" cy="183.5" r="16" fill="url(#gB)"/>
<circle cx="1621.7" cy="183.5" r="16" fill="url(#gB)"/>
<circle cx="1630.2" cy="183.5" r="16" fill="url(#gB)"/>
<circle cx="1638.6" cy="183.5" r="16" fill="url(#gB)"/>
<circle cx="1647.1" cy="183.5" r="16" fill="url(#gB)"/>
<circle cx="1655.5" cy="183.5" r="16" fill="url(#gB)"/>
<circle cx="1663.5" cy="520.7" r="16" fill="url(#gB)"/>
<circle cx="1671.5" cy="672" r="16" fill="url(#gB)"/>
<circle cx="1679.5" cy="695.9" r="16" fill="url(#gB)"/>
<circle cx="1690" cy="763" r="16" fill="url(#gB)"/>
<circle cx="1698" cy="767" r="16" fill="url(#gB)"/>
<circle cx="1706.1" cy="769" r="16" fill="url(#gB)"/>
<circle cx="1714.2" cy="770" r="16" fill="url(#gB)"/>
<circle cx="1722.2" cy="770.5" r="16" fill="url(#gB)"/>
<circle cx="1730.2" cy="770.5" r="16" fill="url(#gB)"/>
<circle cx="1738.3" cy="769" r="16" fill="url(#gB)"/>
<circle cx="1748" cy="659.3" r="16" fill="url(#gB)"/>
<circle cx="1756" cy="530.3" r="16" fill="url(#gB)"/>
<circle cx="1766" cy="175" r="16" fill="url(#gB)"/>
<circle cx="1774.2" cy="183.5" r="16" fill="url(#gB)"/>
<circle cx="1782.4" cy="183.5" r="16" fill="url(#gB)"/>
<circle cx="1790.6" cy="183.5" r="16" fill="url(#gB)"/>
<circle cx="1798.8" cy="183.5" r="16" fill="url(#gB)"/>
<circle cx="1807" cy="183.5" r="16" fill="url(#gB)"/>
<circle cx="1815.2" cy="174" r="16" fill="url(#gB)"/>
<circle cx="1823.4" cy="183.5" r="16" fill="url(#gB)"/>
<circle cx="1831.6" cy="183.5" r="16" fill="url(#gB)"/>
<circle cx="1839.8" cy="183.5" r="16" fill="url(#gB)"/>
<circle cx="1848" cy="183.5" r="16" fill="url(#gB)"/>
<circle cx="1856.2" cy="183.5" r="16" fill="url(#gB)"/>
<circle cx="1865.8" cy="597.2" r="16" fill="url(#gB)"/>
<circle cx="1873.8" cy="680" r="16" fill="url(#gB)"/>
<circle cx="1885" cy="763" r="16" fill="url(#gB)"/>
<circle cx="1893.1" cy="767" r="16" fill="url(#gB)"/>
<circle cx="1901.2" cy="769" r="16" fill="url(#gB)"/>
<circle cx="1909.4" cy="770" r="16" fill="url(#gB)"/>
<circle cx="1917.5" cy="770.5" r="16" fill="url(#gB)"/>
<circle cx="1925.6" cy="770.5" r="16" fill="url(#gB)"/>
<circle cx="1933.8" cy="770" r="16" fill="url(#gB)"/>
<circle cx="1941.9" cy="769" r="16" fill="url(#gB)"/>
<circle cx="1950" cy="769" r="16" fill="url(#gB)"/>
<circle cx="1958.3" cy="746.7" r="16" fill="url(#gB)"/>
<circle cx="1966.7" cy="621.7" r="16" fill="url(#gB)"/>
<circle cx="1975" cy="498.3" r="16" fill="url(#gB)"/>
<circle cx="1984.3" cy="183.5" r="16" fill="url(#gB)"/>
<circle cx="1992.6" cy="183.5" r="16" fill="url(#gB)"/>
<circle cx="2000.9" cy="183.5" r="16" fill="url(#gB)"/>
<circle cx="2009.2" cy="183.5" r="16" fill="url(#gB)"/>
<circle cx="2017.5" cy="183.5" r="16" fill="url(#gB)"/>
<circle cx="2025.8" cy="183.5" r="16" fill="url(#gB)"/>
<circle cx="2034.2" cy="183.5" r="16" fill="url(#gB)"/>
<circle cx="2042.5" cy="183.5" r="16" fill="url(#gB)"/>
<circle cx="2050.8" cy="183.5" r="16" fill="url(#gB)"/>
<circle cx="2059.1" cy="183.5" r="16" fill="url(#gB)"/>
<circle cx="2067.4" cy="183.5" r="16" fill="url(#gB)"/>
<circle cx="2075.7" cy="183.5" r="16" fill="url(#gB)"/>
<circle cx="2084" cy="606.7" r="16" fill="url(#gB)"/>
<circle cx="2092.7" cy="693.3" r="16" fill="url(#gB)"/>
<circle cx="2101" cy="763" r="16" fill="url(#gB)"/>
<circle cx="2109.4" cy="767" r="16" fill="url(#gB)"/>
<circle cx="2117.9" cy="769" r="16" fill="url(#gB)"/>
<circle cx="2126.3" cy="770" r="16" fill="url(#gB)"/>
<circle cx="2134.7" cy="770.5" r="16" fill="url(#gB)"/>
<circle cx="2143.1" cy="770.5" r="16" fill="url(#gB)"/>
<circle cx="2151.6" cy="770" r="16" fill="url(#gB)"/>
<circle cx="2160" cy="769" r="16" fill="url(#gB)"/>
<circle cx="2169.3" cy="740" r="16" fill="url(#gB)"/>
<circle cx="2176.7" cy="613.3" r="16" fill="url(#gB)"/>
<circle cx="2186" cy="183.5" r="16" fill="url(#gB)"/>
<circle cx="2194.3" cy="183.5" r="16" fill="url(#gB)"/>
<circle cx="2202.6" cy="183.5" r="16" fill="url(#gB)"/>
<circle cx="2210.9" cy="183.5" r="16" fill="url(#gB)"/>
<circle cx="2219.2" cy="183.5" r="16" fill="url(#gB)"/>
<circle cx="2227.5" cy="183.5" r="16" fill="url(#gB)"/>
<circle cx="2235.8" cy="183.5" r="16" fill="url(#gB)"/>
<circle cx="2244.1" cy="183.5" r="16" fill="url(#gB)"/>
<circle cx="2252.4" cy="183.5" r="16" fill="url(#gB)"/>
<circle cx="2260.7" cy="183.5" r="16" fill="url(#gB)"/>
<circle cx="2269" cy="183.5" r="16" fill="url(#gB)"/>
<circle cx="2277.3" cy="183.5" r="16" fill="url(#gB)"/>
<circle cx="2286" cy="480.7" r="16" fill="url(#gB)"/>
<circle cx="2295" cy="606.7" r="16" fill="url(#gB)"/>
<circle cx="2303.3" cy="697.3" r="16" fill="url(#gB)"/>
<circle cx="2312.7" cy="763" r="16" fill="url(#gB)"/>
<circle cx="2320.7" cy="767" r="16" fill="url(#gB)"/>
<circle cx="2328.7" cy="769" r="16" fill="url(#gB)"/>
<circle cx="2336.7" cy="770" r="16" fill="url(#gB)"/>
<circle cx="2344.7" cy="770.5" r="16" fill="url(#gB)"/>
<circle cx="2352.7" cy="770.5" r="16" fill="url(#gB)"/>
<circle cx="2360.7" cy="769" r="16" fill="url(#gB)"/>
<circle cx="2370" cy="693.3" r="16" fill="url(#gB)"/>
<circle cx="2378.3" cy="537.3" r="16" fill="url(#gB)"/>
<circle cx="2387.7" cy="183.5" r="16" fill="url(#gB)"/>
<circle cx="2396.1" cy="183.5" r="16" fill="url(#gB)"/>
<circle cx="2404.5" cy="183.5" r="16" fill="url(#gB)"/>
<circle cx="2412.9" cy="183.5" r="16" fill="url(#gB)"/>
<circle cx="2421.3" cy="183.5" r="16" fill="url(#gB)"/>
<circle cx="2429.7" cy="183.5" r="16" fill="url(#gB)"/>
<circle cx="2438" cy="183.5" r="16" fill="url(#gB)"/>
<circle cx="2446.4" cy="183.5" r="16" fill="url(#gB)"/>
<circle cx="2454.8" cy="183.5" r="16" fill="url(#gB)"/>
<circle cx="2463.2" cy="183.5" r="16" fill="url(#gB)"/>
<circle cx="2471.6" cy="183.5" r="16" fill="url(#gB)"/>
<circle cx="2480" cy="183.5" r="16" fill="url(#gB)"/>
</g>
<text x="1367" y="801.2" font-family="'Liberation Sans', Arial, sans-serif" font-size="38" font-weight="bold" text-anchor="end" fill="#111">0</text>
<text x="1367" y="634.8" font-family="'Liberation Sans', Arial, sans-serif" font-size="38" font-weight="bold" text-anchor="end" fill="#111">20</text>
<text x="1367" y="468.4" font-family="'Liberation Sans', Arial, sans-serif" font-size="38" font-weight="bold" text-anchor="end" fill="#111">40</text>
<text x="1367" y="302" font-family="'Liberation Sans', Arial, sans-serif" font-size="38" font-weight="bold" text-anchor="end" fill="#111">60</text>
<text x="1367" y="135.6" font-family="'Liberation Sans', Arial, sans-serif" font-size="38" font-weight="bold" text-anchor="end" fill="#111">80</text>
<text x="1392.8" y="888" font-family="'Liberation Sans', Arial, sans-serif" font-size="37" font-weight="bold" text-anchor="middle" fill="#111">0</text>
<text x="1533" y="888" font-family="'Liberation Sans', Arial, sans-serif" font-size="37" font-weight="bold" text-anchor="middle" fill="#111">500</text>
<text x="1673.2" y="888" font-family="'Liberation Sans', Arial, sans-serif" font-size="37" font-weight="bold" text-anchor="middle" fill="#111">1000</text>
<text x="1813.4" y="888" font-family="'Liberation Sans', Arial, sans-serif" font-size="37" font-weight="bold" text-anchor="middle" fill="#111">1500</text>
<text x="1953.6" y="888" font-family="'Liberation Sans', Arial, sans-serif" font-size="37" font-weight="bold" text-anchor="middle" fill="#111">2000</text>
<text x="2093.8" y="888" font-family="'Liberation Sans', Arial, sans-serif" font-size="37" font-weight="bold" text-anchor="middle" fill="#111">2500</text>
<text x="2234" y="888" font-family="'Liberation Sans', Arial, sans-serif" font-size="37" font-weight="bold" text-anchor="middle" fill="#111">3000</text>
<text x="2374.2" y="888" font-family="'Liberation Sans', Arial, sans-serif" font-size="37" font-weight="bold" text-anchor="middle" fill="#111">3500</text>
<text x="1927.9" y="953" font-family="'Liberation Serif', 'Times New Roman', serif" font-size="48" font-weight="bold" text-anchor="middle" fill="#111">Time (S)</text>
<text x="1304" y="481" font-family="'Liberation Serif', 'Times New Roman', serif" font-size="46.5" font-weight="bold" text-anchor="middle" fill="#111" transform="rotate(-90 1304 481)">Resistance M&#937;</text>
<text x="2092.5" y="126.2" font-family="'Liberation Sans', Arial, sans-serif" font-size="38.1" font-weight="bold" text-anchor="start" fill="#ff0000">ZIF-8-coated ZnO</text>
<text x="1286" y="55" font-family="'Liberation Serif', 'Times New Roman', serif" font-size="47" font-weight="bold" text-anchor="start" fill="#111">(b)</text>
<path d="M305.1 1725.3L389.6 1699.4M428.5 1681.8L517.5 1627M555.8 1607.8L641.5 1573.7M681.6 1558.3L767 1526.3M806.8 1510.1L893.1 1472M928.9 1477.6L1022.3 1560M1057.5 1584.3L1145.1 1630.3" stroke="#ff0000" stroke-width="5.2" stroke-linecap="round" fill="none"/>
<circle cx="284.6" cy="1731.7" r="16" fill="url(#gR)"/>
<circle cx="410.2" cy="1693.1" r="16" fill="url(#gR)"/>
<circle cx="535.9" cy="1615.7" r="16" fill="url(#gR)"/>
<circle cx="661.5" cy="1565.8" r="16" fill="url(#gR)"/>
<circle cx="787.1" cy="1518.8" r="16" fill="url(#gR)"/>
<circle cx="912.8" cy="1463.3" r="16" fill="url(#gR)"/>
<circle cx="1038.5" cy="1574.3" r="16" fill="url(#gR)"/>
<circle cx="1164.1" cy="1640.3" r="16" fill="url(#gR)"/>
<path d="M301.2 1661.3L393.6 1585.7M425.1 1556.6L521 1456.2M551 1425.3L646.4 1328.9M677.5 1299.2L771.1 1215.4M803.5 1187.1L896.4 1108.1M928.7 1108.6L1022.6 1194.2M1052.3 1225.2L1150.3 1342" stroke="#0000ff" stroke-width="5.2" stroke-linecap="round" fill="none"/>
<circle cx="284.6" cy="1674.9" r="16" fill="url(#gB)"/>
<circle cx="410.2" cy="1572.1" r="16" fill="url(#gB)"/>
<circle cx="535.9" cy="1440.6" r="16" fill="url(#gB)"/>
<circle cx="661.5" cy="1313.6" r="16" fill="url(#gB)"/>
<circle cx="787.1" cy="1201.1" r="16" fill="url(#gB)"/>
<circle cx="912.8" cy="1094.1" r="16" fill="url(#gB)"/>
<circle cx="1038.5" cy="1208.7" r="16" fill="url(#gB)"/>
<circle cx="1164.1" cy="1358.5" r="16" fill="url(#gB)"/>
<line x1="912.8" y1="1096.6" x2="912.8" y2="1788" stroke="#707070" stroke-opacity="0.85" stroke-width="3.6" stroke-dasharray="34 12.3"/>
<rect x="158.9" y="996.5" width="1066.5" height="792.2" fill="none" stroke="#1a1a1a" stroke-width="3.6"/>
<line x1="143.9" y1="1788.7" x2="158.9" y2="1788.7" stroke="#1a1a1a" stroke-width="3.4"/>
<line x1="143.9" y1="1656.7" x2="158.9" y2="1656.7" stroke="#1a1a1a" stroke-width="3.4"/>
<line x1="143.9" y1="1524.6" x2="158.9" y2="1524.6" stroke="#1a1a1a" stroke-width="3.4"/>
<line x1="143.9" y1="1392.6" x2="158.9" y2="1392.6" stroke="#1a1a1a" stroke-width="3.4"/>
<line x1="143.9" y1="1260.5" x2="158.9" y2="1260.5" stroke="#1a1a1a" stroke-width="3.4"/>
<line x1="143.9" y1="1128.5" x2="158.9" y2="1128.5" stroke="#1a1a1a" stroke-width="3.4"/>
<line x1="143.9" y1="996.4" x2="158.9" y2="996.4" stroke="#1a1a1a" stroke-width="3.4"/>
<line x1="150.9" y1="1722.7" x2="158.9" y2="1722.7" stroke="#1a1a1a" stroke-width="3.4"/>
<line x1="150.9" y1="1590.6" x2="158.9" y2="1590.6" stroke="#1a1a1a" stroke-width="3.4"/>
<line x1="150.9" y1="1458.6" x2="158.9" y2="1458.6" stroke="#1a1a1a" stroke-width="3.4"/>
<line x1="150.9" y1="1326.5" x2="158.9" y2="1326.5" stroke="#1a1a1a" stroke-width="3.4"/>
<line x1="150.9" y1="1194.5" x2="158.9" y2="1194.5" stroke="#1a1a1a" stroke-width="3.4"/>
<line x1="150.9" y1="1062.4" x2="158.9" y2="1062.4" stroke="#1a1a1a" stroke-width="3.4"/>
<line x1="1211.4" y1="1788.7" x2="1225.4" y2="1788.7" stroke="#1a1a1a" stroke-width="3.4"/>
<line x1="1211.4" y1="1656.7" x2="1225.4" y2="1656.7" stroke="#1a1a1a" stroke-width="3.4"/>
<line x1="1211.4" y1="1524.6" x2="1225.4" y2="1524.6" stroke="#1a1a1a" stroke-width="3.4"/>
<line x1="1211.4" y1="1392.6" x2="1225.4" y2="1392.6" stroke="#1a1a1a" stroke-width="3.4"/>
<line x1="1211.4" y1="1260.5" x2="1225.4" y2="1260.5" stroke="#1a1a1a" stroke-width="3.4"/>
<line x1="1211.4" y1="1128.5" x2="1225.4" y2="1128.5" stroke="#1a1a1a" stroke-width="3.4"/>
<line x1="1211.4" y1="996.4" x2="1225.4" y2="996.4" stroke="#1a1a1a" stroke-width="3.4"/>
<line x1="1217.4" y1="1722.7" x2="1225.4" y2="1722.7" stroke="#1a1a1a" stroke-width="3.4"/>
<line x1="1217.4" y1="1590.6" x2="1225.4" y2="1590.6" stroke="#1a1a1a" stroke-width="3.4"/>
<line x1="1217.4" y1="1458.6" x2="1225.4" y2="1458.6" stroke="#1a1a1a" stroke-width="3.4"/>
<line x1="1217.4" y1="1326.5" x2="1225.4" y2="1326.5" stroke="#1a1a1a" stroke-width="3.4"/>
<line x1="1217.4" y1="1194.5" x2="1225.4" y2="1194.5" stroke="#1a1a1a" stroke-width="3.4"/>
<line x1="1217.4" y1="1062.4" x2="1225.4" y2="1062.4" stroke="#1a1a1a" stroke-width="3.4"/>
<line x1="158.9" y1="1788.7" x2="158.9" y2="1805.7" stroke="#1a1a1a" stroke-width="3.4"/>
<line x1="284.6" y1="1788.7" x2="284.6" y2="1805.7" stroke="#1a1a1a" stroke-width="3.4"/>
<line x1="410.2" y1="1788.7" x2="410.2" y2="1805.7" stroke="#1a1a1a" stroke-width="3.4"/>
<line x1="535.9" y1="1788.7" x2="535.9" y2="1805.7" stroke="#1a1a1a" stroke-width="3.4"/>
<line x1="661.5" y1="1788.7" x2="661.5" y2="1805.7" stroke="#1a1a1a" stroke-width="3.4"/>
<line x1="787.1" y1="1788.7" x2="787.1" y2="1805.7" stroke="#1a1a1a" stroke-width="3.4"/>
<line x1="912.8" y1="1788.7" x2="912.8" y2="1805.7" stroke="#1a1a1a" stroke-width="3.4"/>
<line x1="1038.5" y1="1788.7" x2="1038.5" y2="1805.7" stroke="#1a1a1a" stroke-width="3.4"/>
<line x1="1164.1" y1="1788.7" x2="1164.1" y2="1805.7" stroke="#1a1a1a" stroke-width="3.4"/>
<line x1="221.7" y1="1788.7" x2="221.7" y2="1797.7" stroke="#1a1a1a" stroke-width="3.4"/>
<line x1="347.4" y1="1788.7" x2="347.4" y2="1797.7" stroke="#1a1a1a" stroke-width="3.4"/>
<line x1="473" y1="1788.7" x2="473" y2="1797.7" stroke="#1a1a1a" stroke-width="3.4"/>
<line x1="598.7" y1="1788.7" x2="598.7" y2="1797.7" stroke="#1a1a1a" stroke-width="3.4"/>
<line x1="724.3" y1="1788.7" x2="724.3" y2="1797.7" stroke="#1a1a1a" stroke-width="3.4"/>
<line x1="850" y1="1788.7" x2="850" y2="1797.7" stroke="#1a1a1a" stroke-width="3.4"/>
<line x1="975.6" y1="1788.7" x2="975.6" y2="1797.7" stroke="#1a1a1a" stroke-width="3.4"/>
<line x1="1101.3" y1="1788.7" x2="1101.3" y2="1797.7" stroke="#1a1a1a" stroke-width="3.4"/>
<line x1="1226.9" y1="1788.7" x2="1226.9" y2="1797.7" stroke="#1a1a1a" stroke-width="3.4"/>
<line x1="158.9" y1="996.5" x2="158.9" y2="1013.5" stroke="#1a1a1a" stroke-width="3.4"/>
<line x1="284.6" y1="996.5" x2="284.6" y2="1013.5" stroke="#1a1a1a" stroke-width="3.4"/>
<line x1="410.2" y1="996.5" x2="410.2" y2="1013.5" stroke="#1a1a1a" stroke-width="3.4"/>
<line x1="535.9" y1="996.5" x2="535.9" y2="1013.5" stroke="#1a1a1a" stroke-width="3.4"/>
<line x1="661.5" y1="996.5" x2="661.5" y2="1013.5" stroke="#1a1a1a" stroke-width="3.4"/>
<line x1="787.1" y1="996.5" x2="787.1" y2="1013.5" stroke="#1a1a1a" stroke-width="3.4"/>
<line x1="912.8" y1="996.5" x2="912.8" y2="1013.5" stroke="#1a1a1a" stroke-width="3.4"/>
<line x1="1038.5" y1="996.5" x2="1038.5" y2="1013.5" stroke="#1a1a1a" stroke-width="3.4"/>
<line x1="1164.1" y1="996.5" x2="1164.1" y2="1013.5" stroke="#1a1a1a" stroke-width="3.4"/>
<line x1="221.7" y1="996.5" x2="221.7" y2="1005.5" stroke="#1a1a1a" stroke-width="3.4"/>
<line x1="347.4" y1="996.5" x2="347.4" y2="1005.5" stroke="#1a1a1a" stroke-width="3.4"/>
<line x1="473" y1="996.5" x2="473" y2="1005.5" stroke="#1a1a1a" stroke-width="3.4"/>
<line x1="598.7" y1="996.5" x2="598.7" y2="1005.5" stroke="#1a1a1a" stroke-width="3.4"/>
<line x1="724.3" y1="996.5" x2="724.3" y2="1005.5" stroke="#1a1a1a" stroke-width="3.4"/>
<line x1="850" y1="996.5" x2="850" y2="1005.5" stroke="#1a1a1a" stroke-width="3.4"/>
<line x1="975.6" y1="996.5" x2="975.6" y2="1005.5" stroke="#1a1a1a" stroke-width="3.4"/>
<line x1="1101.3" y1="996.5" x2="1101.3" y2="1005.5" stroke="#1a1a1a" stroke-width="3.4"/>
<line x1="1226.9" y1="996.5" x2="1226.9" y2="1005.5" stroke="#1a1a1a" stroke-width="3.4"/>
<text x="132" y="1797" font-family="'Liberation Sans', Arial, sans-serif" font-size="30" font-weight="bold" text-anchor="end" fill="#111">0</text>
<text x="132" y="1665" font-family="'Liberation Sans', Arial, sans-serif" font-size="30" font-weight="bold" text-anchor="end" fill="#111">5</text>
<text x="132" y="1532.9" font-family="'Liberation Sans', Arial, sans-serif" font-size="30" font-weight="bold" text-anchor="end" fill="#111">10</text>
<text x="132" y="1400.9" font-family="'Liberation Sans', Arial, sans-serif" font-size="30" font-weight="bold" text-anchor="end" fill="#111">15</text>
<text x="132" y="1268.8" font-family="'Liberation Sans', Arial, sans-serif" font-size="30" font-weight="bold" text-anchor="end" fill="#111">20</text>
<text x="132" y="1136.8" font-family="'Liberation Sans', Arial, sans-serif" font-size="30" font-weight="bold" text-anchor="end" fill="#111">25</text>
<text x="132" y="1004.7" font-family="'Liberation Sans', Arial, sans-serif" font-size="30" font-weight="bold" text-anchor="end" fill="#111">30</text>
<text x="158.9" y="1840" font-family="'Liberation Sans', Arial, sans-serif" font-size="30" font-weight="bold" text-anchor="middle" fill="#111">50</text>
<text x="284.6" y="1840" font-family="'Liberation Sans', Arial, sans-serif" font-size="30" font-weight="bold" text-anchor="middle" fill="#111">100</text>
<text x="410.2" y="1840" font-family="'Liberation Sans', Arial, sans-serif" font-size="30" font-weight="bold" text-anchor="middle" fill="#111">150</text>
<text x="535.9" y="1840" font-family="'Liberation Sans', Arial, sans-serif" font-size="30" font-weight="bold" text-anchor="middle" fill="#111">200</text>
<text x="661.5" y="1840" font-family="'Liberation Sans', Arial, sans-serif" font-size="30" font-weight="bold" text-anchor="middle" fill="#111">250</text>
<text x="787.1" y="1840" font-family="'Liberation Sans', Arial, sans-serif" font-size="30" font-weight="bold" text-anchor="middle" fill="#111">300</text>
<text x="912.8" y="1840" font-family="'Liberation Sans', Arial, sans-serif" font-size="30" font-weight="bold" text-anchor="middle" fill="#111">350</text>
<text x="1038.5" y="1840" font-family="'Liberation Sans', Arial, sans-serif" font-size="30" font-weight="bold" text-anchor="middle" fill="#111">400</text>
<text x="1164.1" y="1840" font-family="'Liberation Sans', Arial, sans-serif" font-size="30" font-weight="bold" text-anchor="middle" fill="#111">450</text>
<line x1="278.2" y1="1100.3" x2="369.1" y2="1100.3" stroke="#ff0000" stroke-width="3.4"/>
<line x1="304" y1="1100.3" x2="343.5" y2="1100.3" stroke="#fff" stroke-width="5"/>
<circle cx="323.7" cy="1100" r="15.5" fill="url(#gR)"/>
<line x1="278.2" y1="1148.4" x2="369.1" y2="1148.4" stroke="#0000ff" stroke-width="3.4"/>
<line x1="304" y1="1148.4" x2="343.5" y2="1148.4" stroke="#fff" stroke-width="5"/>
<circle cx="323.7" cy="1148.4" r="15.5" fill="url(#gB)"/>
<text x="377.5" y="1113.2" font-family="'Liberation Sans', Arial, sans-serif" font-size="38" font-weight="normal" text-anchor="start" fill="#111" letter-spacing="1.5">ZnO</text>
<text x="377" y="1160" font-family="'Liberation Sans', Arial, sans-serif" font-size="38" font-weight="normal" text-anchor="start" fill="#111" letter-spacing="0.4">ZIF-8 coated ZnO</text>
<text x="914.6" y="1069.3" font-family="'Liberation Sans', Arial, sans-serif" font-size="39" font-weight="bold" text-anchor="middle" fill="#111">26.3</text>
<text x="909.5" y="1438" font-family="'Liberation Sans', Arial, sans-serif" font-size="39" font-weight="bold" text-anchor="middle" fill="#111">12.3</text>
<text x="519.5" y="1911" font-family="'Liberation Serif', 'Times New Roman', serif" font-size="46" font-weight="bold" text-anchor="start" fill="#111">Temperatures (<tspan font-size="21" dy="-26">o</tspan><tspan dy="26">C)</tspan></text>
<text x="62" y="1364" font-family="'Liberation Serif', 'Times New Roman', serif" font-size="46" font-weight="bold" text-anchor="middle" fill="#111" transform="rotate(-90 62 1364)">Gas response</text>
<text x="22" y="1041" font-family="'Liberation Serif', 'Times New Roman', serif" font-size="47" font-weight="bold" text-anchor="start" fill="#111">(c)</text>
<text x="76" y="1041" font-family="'Liberation Sans', Arial, sans-serif" font-size="20" font-weight="normal" text-anchor="start" fill="#aaa">.</text>
<path d="M1531.4 1551.4L1612.9 1502.9M1650.7 1482.4L1730.7 1442.5M1769.4 1423.7L1849.1 1386M1887.3 1366.3L1968.4 1320.6M2007.2 1302.3L2085.6 1272.1M2125 1255.1L2204.8 1216.7M2243.5 1197.8L2323.5 1158" stroke="#0000ff" stroke-width="5.2" stroke-linecap="round" fill="none"/>
<circle cx="1512.9" cy="1562.3" r="16" fill="url(#gB)"/>
<circle cx="1631.4" cy="1492" r="16" fill="url(#gB)"/>
<circle cx="1750" cy="1432.9" r="16" fill="url(#gB)"/>
<circle cx="1868.5" cy="1376.8" r="16" fill="url(#gB)"/>
<circle cx="1987.1" cy="1310" r="16" fill="url(#gB)"/>
<circle cx="2105.7" cy="1264.4" r="16" fill="url(#gB)"/>
<circle cx="2224.2" cy="1207.4" r="16" fill="url(#gB)"/>
<circle cx="2342.8" cy="1148.4" r="16" fill="url(#gB)"/>
<path d="M1533.6 1671.4L1610.6 1650.9M1652.5 1641L1728.9 1625.1M1771.2 1617.3L1847.3 1605.1M1889.6 1597.3L1966 1581.5M2008.4 1574.2L2084.4 1563.9M2126.1 1554.3L2203.8 1529M2245.5 1519.5L2321.5 1509.6" stroke="#ff0000" stroke-width="5.2" stroke-linecap="round" fill="none"/>
<circle cx="1512.9" cy="1676.9" r="16" fill="url(#gR)"/>
<circle cx="1631.4" cy="1645.3" r="16" fill="url(#gR)"/>
<circle cx="1750" cy="1620.7" r="16" fill="url(#gR)"/>
<circle cx="1868.5" cy="1601.7" r="16" fill="url(#gR)"/>
<circle cx="1987.1" cy="1577.1" r="16" fill="url(#gR)"/>
<circle cx="2105.7" cy="1561" r="16" fill="url(#gR)"/>
<circle cx="2224.2" cy="1522.3" r="16" fill="url(#gR)"/>
<circle cx="2342.8" cy="1506.8" r="16" fill="url(#gR)"/>
<rect x="1394.3" y="997.3" width="1067" height="791.9" fill="none" stroke="#1a1a1a" stroke-width="3.6"/>
<line x1="1379.3" y1="1789.2" x2="1394.3" y2="1789.2" stroke="#1a1a1a" stroke-width="3.4"/>
<line x1="1379.3" y1="1676.1" x2="1394.3" y2="1676.1" stroke="#1a1a1a" stroke-width="3.4"/>
<line x1="1379.3" y1="1563" x2="1394.3" y2="1563" stroke="#1a1a1a" stroke-width="3.4"/>
<line x1="1379.3" y1="1449.9" x2="1394.3" y2="1449.9" stroke="#1a1a1a" stroke-width="3.4"/>
<line x1="1379.3" y1="1336.8" x2="1394.3" y2="1336.8" stroke="#1a1a1a" stroke-width="3.4"/>
<line x1="1379.3" y1="1223.7" x2="1394.3" y2="1223.7" stroke="#1a1a1a" stroke-width="3.4"/>
<line x1="1379.3" y1="1110.6" x2="1394.3" y2="1110.6" stroke="#1a1a1a" stroke-width="3.4"/>
<line x1="1379.3" y1="997.5" x2="1394.3" y2="997.5" stroke="#1a1a1a" stroke-width="3.4"/>
<line x1="1386.3" y1="1732.7" x2="1394.3" y2="1732.7" stroke="#1a1a1a" stroke-width="3.4"/>
<line x1="1386.3" y1="1619.5" x2="1394.3" y2="1619.5" stroke="#1a1a1a" stroke-width="3.4"/>
<line x1="1386.3" y1="1506.5" x2="1394.3" y2="1506.5" stroke="#1a1a1a" stroke-width="3.4"/>
<line x1="1386.3" y1="1393.3" x2="1394.3" y2="1393.3" stroke="#1a1a1a" stroke-width="3.4"/>
<line x1="1386.3" y1="1280.2" x2="1394.3" y2="1280.2" stroke="#1a1a1a" stroke-width="3.4"/>
<line x1="1386.3" y1="1167.2" x2="1394.3" y2="1167.2" stroke="#1a1a1a" stroke-width="3.4"/>
<line x1="1386.3" y1="1054.1" x2="1394.3" y2="1054.1" stroke="#1a1a1a" stroke-width="3.4"/>
<line x1="2446.8" y1="1789.2" x2="2461.3" y2="1789.2" stroke="#1a1a1a" stroke-width="3.4"/>
<line x1="2446.8" y1="1676.1" x2="2461.3" y2="1676.1" stroke="#1a1a1a" stroke-width="3.4"/>
<line x1="2446.8" y1="1563" x2="2461.3" y2="1563" stroke="#1a1a1a" stroke-width="3.4"/>
<line x1="2446.8" y1="1449.9" x2="2461.3" y2="1449.9" stroke="#1a1a1a" stroke-width="3.4"/>
<line x1="2446.8" y1="1336.8" x2="2461.3" y2="1336.8" stroke="#1a1a1a" stroke-width="3.4"/>
<line x1="2446.8" y1="1223.7" x2="2461.3" y2="1223.7" stroke="#1a1a1a" stroke-width="3.4"/>
<line x1="2446.8" y1="1110.6" x2="2461.3" y2="1110.6" stroke="#1a1a1a" stroke-width="3.4"/>
<line x1="2446.8" y1="997.5" x2="2461.3" y2="997.5" stroke="#1a1a1a" stroke-width="3.4"/>
<line x1="2454.3" y1="1732.7" x2="2461.3" y2="1732.7" stroke="#1a1a1a" stroke-width="3.4"/>
<line x1="2454.3" y1="1619.5" x2="2461.3" y2="1619.5" stroke="#1a1a1a" stroke-width="3.4"/>
<line x1="2454.3" y1="1506.5" x2="2461.3" y2="1506.5" stroke="#1a1a1a" stroke-width="3.4"/>
<line x1="2454.3" y1="1393.3" x2="2461.3" y2="1393.3" stroke="#1a1a1a" stroke-width="3.4"/>
<line x1="2454.3" y1="1280.2" x2="2461.3" y2="1280.2" stroke="#1a1a1a" stroke-width="3.4"/>
<line x1="2454.3" y1="1167.2" x2="2461.3" y2="1167.2" stroke="#1a1a1a" stroke-width="3.4"/>
<line x1="2454.3" y1="1054.1" x2="2461.3" y2="1054.1" stroke="#1a1a1a" stroke-width="3.4"/>
<line x1="1394.3" y1="1789.2" x2="1394.3" y2="1806.2" stroke="#1a1a1a" stroke-width="3.4"/>
<line x1="1512.9" y1="1789.2" x2="1512.9" y2="1806.2" stroke="#1a1a1a" stroke-width="3.4"/>
<line x1="1631.4" y1="1789.2" x2="1631.4" y2="1806.2" stroke="#1a1a1a" stroke-width="3.4"/>
<line x1="1750" y1="1789.2" x2="1750" y2="1806.2" stroke="#1a1a1a" stroke-width="3.4"/>
<line x1="1868.5" y1="1789.2" x2="1868.5" y2="1806.2" stroke="#1a1a1a" stroke-width="3.4"/>
<line x1="1987.1" y1="1789.2" x2="1987.1" y2="1806.2" stroke="#1a1a1a" stroke-width="3.4"/>
<line x1="2105.7" y1="1789.2" x2="2105.7" y2="1806.2" stroke="#1a1a1a" stroke-width="3.4"/>
<line x1="2224.2" y1="1789.2" x2="2224.2" y2="1806.2" stroke="#1a1a1a" stroke-width="3.4"/>
<line x1="2342.8" y1="1789.2" x2="2342.8" y2="1806.2" stroke="#1a1a1a" stroke-width="3.4"/>
<line x1="2461.3" y1="1789.2" x2="2461.3" y2="1806.2" stroke="#1a1a1a" stroke-width="3.4"/>
<line x1="1453.6" y1="1789.2" x2="1453.6" y2="1798.2" stroke="#1a1a1a" stroke-width="3.4"/>
<line x1="1572.1" y1="1789.2" x2="1572.1" y2="1798.2" stroke="#1a1a1a" stroke-width="3.4"/>
<line x1="1690.7" y1="1789.2" x2="1690.7" y2="1798.2" stroke="#1a1a1a" stroke-width="3.4"/>
<line x1="1809.3" y1="1789.2" x2="1809.3" y2="1798.2" stroke="#1a1a1a" stroke-width="3.4"/>
<line x1="1927.8" y1="1789.2" x2="1927.8" y2="1798.2" stroke="#1a1a1a" stroke-width="3.4"/>
<line x1="2046.4" y1="1789.2" x2="2046.4" y2="1798.2" stroke="#1a1a1a" stroke-width="3.4"/>
<line x1="2164.9" y1="1789.2" x2="2164.9" y2="1798.2" stroke="#1a1a1a" stroke-width="3.4"/>
<line x1="2283.5" y1="1789.2" x2="2283.5" y2="1798.2" stroke="#1a1a1a" stroke-width="3.4"/>
<line x1="2402.1" y1="1789.2" x2="2402.1" y2="1798.2" stroke="#1a1a1a" stroke-width="3.4"/>
<line x1="1394.3" y1="997.3" x2="1394.3" y2="1014.3" stroke="#1a1a1a" stroke-width="3.4"/>
<line x1="1512.9" y1="997.3" x2="1512.9" y2="1014.3" stroke="#1a1a1a" stroke-width="3.4"/>
<line x1="1631.4" y1="997.3" x2="1631.4" y2="1014.3" stroke="#1a1a1a" stroke-width="3.4"/>
<line x1="1750" y1="997.3" x2="1750" y2="1014.3" stroke="#1a1a1a" stroke-width="3.4"/>
<line x1="1868.5" y1="997.3" x2="1868.5" y2="1014.3" stroke="#1a1a1a" stroke-width="3.4"/>
<line x1="1987.1" y1="997.3" x2="1987.1" y2="1014.3" stroke="#1a1a1a" stroke-width="3.4"/>
<line x1="2105.7" y1="997.3" x2="2105.7" y2="1014.3" stroke="#1a1a1a" stroke-width="3.4"/>
<line x1="2224.2" y1="997.3" x2="2224.2" y2="1014.3" stroke="#1a1a1a" stroke-width="3.4"/>
<line x1="2342.8" y1="997.3" x2="2342.8" y2="1014.3" stroke="#1a1a1a" stroke-width="3.4"/>
<line x1="2461.3" y1="997.3" x2="2461.3" y2="1014.3" stroke="#1a1a1a" stroke-width="3.4"/>
<line x1="1453.6" y1="997.3" x2="1453.6" y2="1006.3" stroke="#1a1a1a" stroke-width="3.4"/>
<line x1="1572.1" y1="997.3" x2="1572.1" y2="1006.3" stroke="#1a1a1a" stroke-width="3.4"/>
<line x1="1690.7" y1="997.3" x2="1690.7" y2="1006.3" stroke="#1a1a1a" stroke-width="3.4"/>
<line x1="1809.3" y1="997.3" x2="1809.3" y2="1006.3" stroke="#1a1a1a" stroke-width="3.4"/>
<line x1="1927.8" y1="997.3" x2="1927.8" y2="1006.3" stroke="#1a1a1a" stroke-width="3.4"/>
<line x1="2046.4" y1="997.3" x2="2046.4" y2="1006.3" stroke="#1a1a1a" stroke-width="3.4"/>
<line x1="2164.9" y1="997.3" x2="2164.9" y2="1006.3" stroke="#1a1a1a" stroke-width="3.4"/>
<line x1="2283.5" y1="997.3" x2="2283.5" y2="1006.3" stroke="#1a1a1a" stroke-width="3.4"/>
<line x1="2402.1" y1="997.3" x2="2402.1" y2="1006.3" stroke="#1a1a1a" stroke-width="3.4"/>
<text x="1368.5" y="1797.5" font-family="'Liberation Sans', Arial, sans-serif" font-size="30" font-weight="bold" text-anchor="end" fill="#111">0</text>
<text x="1368.5" y="1684.4" font-family="'Liberation Sans', Arial, sans-serif" font-size="30" font-weight="bold" text-anchor="end" fill="#111">10</text>
<text x="1368.5" y="1571.3" font-family="'Liberation Sans', Arial, sans-serif" font-size="30" font-weight="bold" text-anchor="end" fill="#111">20</text>
<text x="1368.5" y="1458.2" font-family="'Liberation Sans', Arial, sans-serif" font-size="30" font-weight="bold" text-anchor="end" fill="#111">30</text>
<text x="1368.5" y="1345.1" font-family="'Liberation Sans', Arial, sans-serif" font-size="30" font-weight="bold" text-anchor="end" fill="#111">40</text>
<text x="1368.5" y="1232" font-family="'Liberation Sans', Arial, sans-serif" font-size="30" font-weight="bold" text-anchor="end" fill="#111">50</text>
<text x="1368.5" y="1118.9" font-family="'Liberation Sans', Arial, sans-serif" font-size="30" font-weight="bold" text-anchor="end" fill="#111">60</text>
<text x="1368.5" y="1005.8" font-family="'Liberation Sans', Arial, sans-serif" font-size="30" font-weight="bold" text-anchor="end" fill="#111">70</text>
<text x="1394.3" y="1840" font-family="'Liberation Sans', Arial, sans-serif" font-size="30" font-weight="bold" text-anchor="middle" fill="#111">0</text>
<text x="1512.9" y="1840" font-family="'Liberation Sans', Arial, sans-serif" font-size="30" font-weight="bold" text-anchor="middle" fill="#111">10</text>
<text x="1631.4" y="1840" font-family="'Liberation Sans', Arial, sans-serif" font-size="30" font-weight="bold" text-anchor="middle" fill="#111">20</text>
<text x="1750" y="1840" font-family="'Liberation Sans', Arial, sans-serif" font-size="30" font-weight="bold" text-anchor="middle" fill="#111">30</text>
<text x="1868.5" y="1840" font-family="'Liberation Sans', Arial, sans-serif" font-size="30" font-weight="bold" text-anchor="middle" fill="#111">40</text>
<text x="1987.1" y="1840" font-family="'Liberation Sans', Arial, sans-serif" font-size="30" font-weight="bold" text-anchor="middle" fill="#111">50</text>
<text x="2105.7" y="1840" font-family="'Liberation Sans', Arial, sans-serif" font-size="30" font-weight="bold" text-anchor="middle" fill="#111">60</text>
<text x="2224.2" y="1840" font-family="'Liberation Sans', Arial, sans-serif" font-size="30" font-weight="bold" text-anchor="middle" fill="#111">70</text>
<text x="2342.8" y="1840" font-family="'Liberation Sans', Arial, sans-serif" font-size="30" font-weight="bold" text-anchor="middle" fill="#111">80</text>
<text x="2461.3" y="1840" font-family="'Liberation Sans', Arial, sans-serif" font-size="30" font-weight="bold" text-anchor="middle" fill="#111">90</text>
<line x1="1453" y1="1089.3" x2="1543.4" y2="1089.3" stroke="#0000ff" stroke-width="3.4"/>
<line x1="1479" y1="1089.3" x2="1518.5" y2="1089.3" stroke="#fff" stroke-width="5"/>
<circle cx="1498.8" cy="1088.5" r="15.5" fill="url(#gB)"/>
<line x1="1453" y1="1137.4" x2="1543.4" y2="1137.4" stroke="#ff0000" stroke-width="3.4"/>
<line x1="1479" y1="1137.4" x2="1518.5" y2="1137.4" stroke="#fff" stroke-width="5"/>
<circle cx="1498.8" cy="1137" r="15.5" fill="url(#gR)"/>
<text x="1552" y="1101" font-family="'Liberation Sans', Arial, sans-serif" font-size="38" font-weight="normal" text-anchor="start" fill="#111" letter-spacing="0.4">ZIF-8 coated ZnO</text>
<text x="1552" y="1148.7" font-family="'Liberation Sans', Arial, sans-serif" font-size="38" font-weight="normal" text-anchor="start" fill="#111" letter-spacing="1.5">ZnO</text>
<text x="2343.9" y="1108.6" font-family="'Liberation Sans', Arial, sans-serif" font-size="39" font-weight="bold" text-anchor="middle" fill="#111">56.7</text>
<text x="2353" y="1467.5" font-family="'Liberation Sans', Arial, sans-serif" font-size="39" font-weight="bold" text-anchor="middle" fill="#111">25.0</text>
<text x="1894.4" y="1916" font-family="'Liberation Serif', 'Times New Roman', serif" font-size="45.5" font-weight="bold" text-anchor="middle" fill="#111">Concentration (ppm)</text>
<text x="1298" y="1396" font-family="'Liberation Serif', 'Times New Roman', serif" font-size="46" font-weight="bold" text-anchor="middle" fill="#111" transform="rotate(-90 1298 1396)">Gas response</text>
<text x="1283" y="1041" font-family="'Liberation Serif', 'Times New Roman', serif" font-size="47" font-weight="bold" text-anchor="start" fill="#111">(d)</text>
<clipPath id="ce"><rect x="199.6" y="1975.5" width="1004.6" height="789"/></clipPath>
<rect x="200.6" y="1975.5" width="1002.1" height="789" fill="none" stroke="#1a1a1a" stroke-width="3.6"/>
<line x1="181.1" y1="2764.7" x2="200.6" y2="2764.7" stroke="#1a1a1a" stroke-width="3.4"/>
<line x1="181.1" y1="2633.1" x2="200.6" y2="2633.1" stroke="#1a1a1a" stroke-width="3.4"/>
<line x1="181.1" y1="2501.6" x2="200.6" y2="2501.6" stroke="#1a1a1a" stroke-width="3.4"/>
<line x1="181.1" y1="2370" x2="200.6" y2="2370" stroke="#1a1a1a" stroke-width="3.4"/>
<line x1="181.1" y1="2238.5" x2="200.6" y2="2238.5" stroke="#1a1a1a" stroke-width="3.4"/>
<line x1="181.1" y1="2106.9" x2="200.6" y2="2106.9" stroke="#1a1a1a" stroke-width="3.4"/>
<line x1="181.1" y1="1975.4" x2="200.6" y2="1975.4" stroke="#1a1a1a" stroke-width="3.4"/>
<line x1="191.6" y1="2698.9" x2="200.6" y2="2698.9" stroke="#1a1a1a" stroke-width="3.4"/>
<line x1="191.6" y1="2567.4" x2="200.6" y2="2567.4" stroke="#1a1a1a" stroke-width="3.4"/>
<line x1="191.6" y1="2435.8" x2="200.6" y2="2435.8" stroke="#1a1a1a" stroke-width="3.4"/>
<line x1="191.6" y1="2304.3" x2="200.6" y2="2304.3" stroke="#1a1a1a" stroke-width="3.4"/>
<line x1="191.6" y1="2172.7" x2="200.6" y2="2172.7" stroke="#1a1a1a" stroke-width="3.4"/>
<line x1="191.6" y1="2041.2" x2="200.6" y2="2041.2" stroke="#1a1a1a" stroke-width="3.4"/>
<line x1="377.5" y1="2764.5" x2="377.5" y2="2787.5" stroke="#1a1a1a" stroke-width="3.4"/>
<line x1="613.3" y1="2764.5" x2="613.3" y2="2787.5" stroke="#1a1a1a" stroke-width="3.4"/>
<line x1="849.1" y1="2764.5" x2="849.1" y2="2787.5" stroke="#1a1a1a" stroke-width="3.4"/>
<line x1="1084.9" y1="2764.5" x2="1084.9" y2="2787.5" stroke="#1a1a1a" stroke-width="3.4"/>
<line x1="259.6" y1="2764.5" x2="259.6" y2="2777.5" stroke="#1a1a1a" stroke-width="3.4"/>
<line x1="495.4" y1="2764.5" x2="495.4" y2="2777.5" stroke="#1a1a1a" stroke-width="3.4"/>
<line x1="731.2" y1="2764.5" x2="731.2" y2="2777.5" stroke="#1a1a1a" stroke-width="3.4"/>
<line x1="967" y1="2764.5" x2="967" y2="2777.5" stroke="#1a1a1a" stroke-width="3.4"/>
<line x1="1202.8" y1="2764.5" x2="1202.8" y2="2777.5" stroke="#1a1a1a" stroke-width="3.4"/>
<g clip-path="url(#ce)">
<path d="M476.4 2625.8L478.8 2611.5M513.2 2515.2L514.5 2509.3M853.1 2514.6L854.5 2522" stroke="#ff0000" stroke-width="5.5" stroke-linecap="round" fill="none"/>
<circle cx="207.7" cy="2683.1" r="21" fill="url(#gR)"/>
<circle cx="219.5" cy="2685.8" r="21" fill="url(#gR)"/>
<circle cx="231.3" cy="2681.8" r="21" fill="url(#gR)"/>
<circle cx="243.1" cy="2683.1" r="21" fill="url(#gR)"/>
<circle cx="254.9" cy="2680.5" r="21" fill="url(#gR)"/>
<circle cx="266.7" cy="2681.8" r="21" fill="url(#gR)"/>
<circle cx="278.5" cy="2680.5" r="21" fill="url(#gR)"/>
<circle cx="290.3" cy="2683.1" r="21" fill="url(#gR)"/>
<circle cx="302" cy="2681.8" r="21" fill="url(#gR)"/>
<circle cx="313.8" cy="2684.5" r="21" fill="url(#gR)"/>
<circle cx="325.6" cy="2685.8" r="21" fill="url(#gR)"/>
<circle cx="337.4" cy="2684.5" r="21" fill="url(#gR)"/>
<circle cx="349.2" cy="2683.1" r="21" fill="url(#gR)"/>
<circle cx="361" cy="2677.9" r="21" fill="url(#gR)"/>
<circle cx="372.8" cy="2685.8" r="21" fill="url(#gR)"/>
<circle cx="384.6" cy="2684.5" r="21" fill="url(#gR)"/>
<circle cx="396.4" cy="2683.1" r="21" fill="url(#gR)"/>
<circle cx="408.2" cy="2677.9" r="21" fill="url(#gR)"/>
<circle cx="419.9" cy="2685.8" r="21" fill="url(#gR)"/>
<circle cx="431.7" cy="2684.5" r="21" fill="url(#gR)"/>
<circle cx="443.5" cy="2683.1" r="21" fill="url(#gR)"/>
<circle cx="457.7" cy="2676.3" r="21" fill="url(#gR)"/>
<circle cx="471.6" cy="2653.4" r="21" fill="url(#gR)"/>
<circle cx="483.6" cy="2584" r="21" fill="url(#gR)"/>
<circle cx="494.2" cy="2579" r="21" fill="url(#gR)"/>
<circle cx="507.5" cy="2542.6" r="21" fill="url(#gR)"/>
<circle cx="520.2" cy="2481.9" r="21" fill="url(#gR)"/>
<circle cx="527.2" cy="2496.3" r="21" fill="url(#gR)"/>
<circle cx="534.3" cy="2499" r="21" fill="url(#gR)"/>
<circle cx="543.7" cy="2493.7" r="21" fill="url(#gR)"/>
<circle cx="553.2" cy="2488.4" r="21" fill="url(#gR)"/>
<circle cx="566.1" cy="2456.1" r="21" fill="url(#gR)"/>
<circle cx="577.9" cy="2467.4" r="21" fill="url(#gR)"/>
<circle cx="589.7" cy="2470" r="21" fill="url(#gR)"/>
<circle cx="601.5" cy="2456.6" r="21" fill="url(#gR)"/>
<circle cx="612.1" cy="2479.2" r="21" fill="url(#gR)"/>
<circle cx="623.9" cy="2477.9" r="21" fill="url(#gR)"/>
<circle cx="635.7" cy="2476.6" r="21" fill="url(#gR)"/>
<circle cx="647.5" cy="2475.3" r="21" fill="url(#gR)"/>
<circle cx="659.3" cy="2474" r="21" fill="url(#gR)"/>
<circle cx="671.1" cy="2476.6" r="21" fill="url(#gR)"/>
<circle cx="682.9" cy="2453.2" r="21" fill="url(#gR)"/>
<circle cx="694.7" cy="2464.8" r="21" fill="url(#gR)"/>
<circle cx="707.6" cy="2446.6" r="21" fill="url(#gR)"/>
<circle cx="718.2" cy="2475.3" r="21" fill="url(#gR)"/>
<circle cx="730" cy="2442.4" r="21" fill="url(#gR)"/>
<circle cx="741.8" cy="2459.5" r="21" fill="url(#gR)"/>
<circle cx="753.6" cy="2447.9" r="21" fill="url(#gR)"/>
<circle cx="765.4" cy="2456.9" r="21" fill="url(#gR)"/>
<circle cx="777.2" cy="2451.9" r="21" fill="url(#gR)"/>
<circle cx="789" cy="2464.8" r="21" fill="url(#gR)"/>
<circle cx="793.7" cy="2474" r="21" fill="url(#gR)"/>
<circle cx="803.1" cy="2443.7" r="21" fill="url(#gR)"/>
<circle cx="813.7" cy="2442.4" r="21" fill="url(#gR)"/>
<circle cx="824.3" cy="2443.7" r="21" fill="url(#gR)"/>
<circle cx="836.1" cy="2446.6" r="21" fill="url(#gR)"/>
<circle cx="847.9" cy="2487.1" r="21" fill="url(#gR)"/>
<circle cx="859.7" cy="2549.5" r="21" fill="url(#gR)"/>
<circle cx="871.5" cy="2599.7" r="21" fill="url(#gR)"/>
<circle cx="882.8" cy="2648.1" r="21" fill="url(#gR)"/>
<circle cx="894.5" cy="2670.5" r="21" fill="url(#gR)"/>
<circle cx="902.2" cy="2686.8" r="21" fill="url(#gR)"/>
<circle cx="915.1" cy="2676.6" r="21" fill="url(#gR)"/>
<circle cx="926.9" cy="2675.8" r="21" fill="url(#gR)"/>
<circle cx="936.3" cy="2680.8" r="21" fill="url(#gR)"/>
<circle cx="949.3" cy="2676.6" r="21" fill="url(#gR)"/>
<circle cx="961.1" cy="2685.8" r="21" fill="url(#gR)"/>
<circle cx="971.7" cy="2677.9" r="21" fill="url(#gR)"/>
<circle cx="983.5" cy="2675.8" r="21" fill="url(#gR)"/>
<circle cx="1000" cy="2666.6" r="21" fill="url(#gR)"/>
<circle cx="1009.4" cy="2675.8" r="21" fill="url(#gR)"/>
<circle cx="1022.4" cy="2685.8" r="21" fill="url(#gR)"/>
<circle cx="1034.2" cy="2661.3" r="21" fill="url(#gR)"/>
<circle cx="1047.2" cy="2666.6" r="21" fill="url(#gR)"/>
<circle cx="1056.6" cy="2670" r="21" fill="url(#gR)"/>
<circle cx="1069.6" cy="2674.2" r="21" fill="url(#gR)"/>
<circle cx="1079" cy="2677.9" r="21" fill="url(#gR)"/>
<circle cx="1092" cy="2677.9" r="21" fill="url(#gR)"/>
<circle cx="1103.8" cy="2681.6" r="21" fill="url(#gR)"/>
<circle cx="1115.6" cy="2685.8" r="21" fill="url(#gR)"/>
<circle cx="1128.5" cy="2689.2" r="21" fill="url(#gR)"/>
<circle cx="1140.3" cy="2692.3" r="21" fill="url(#gR)"/>
<circle cx="1153.3" cy="2692.9" r="21" fill="url(#gR)"/>
<circle cx="1165.1" cy="2696.3" r="21" fill="url(#gR)"/>
<circle cx="1176.9" cy="2698.9" r="21" fill="url(#gR)"/>
<circle cx="1187.5" cy="2700.2" r="21" fill="url(#gR)"/>
<circle cx="1199.3" cy="2701.6" r="21" fill="url(#gR)"/>
<circle cx="1209.9" cy="2702.1" r="21" fill="url(#gR)"/>
</g>
<text x="166.5" y="2773" font-family="'Liberation Sans', Arial, sans-serif" font-size="31" font-weight="bold" text-anchor="end" fill="#111">0</text>
<text x="166.5" y="2641.4" font-family="'Liberation Sans', Arial, sans-serif" font-size="31" font-weight="bold" text-anchor="end" fill="#111">5</text>
<text x="166.5" y="2509.9" font-family="'Liberation Sans', Arial, sans-serif" font-size="31" font-weight="bold" text-anchor="end" fill="#111">10</text>
<text x="166.5" y="2378.3" font-family="'Liberation Sans', Arial, sans-serif" font-size="31" font-weight="bold" text-anchor="end" fill="#111">15</text>
<text x="166.5" y="2246.8" font-family="'Liberation Sans', Arial, sans-serif" font-size="31" font-weight="bold" text-anchor="end" fill="#111">20</text>
<text x="166.5" y="2115.2" font-family="'Liberation Sans', Arial, sans-serif" font-size="31" font-weight="bold" text-anchor="end" fill="#111">25</text>
<text x="166.5" y="1983.7" font-family="'Liberation Sans', Arial, sans-serif" font-size="31" font-weight="bold" text-anchor="end" fill="#111">30</text>
<text x="377.5" y="2825.3" font-family="'Liberation Serif', 'Times New Roman', serif" font-size="32" font-weight="bold" text-anchor="middle" fill="#111">40</text>
<text x="613.3" y="2825.3" font-family="'Liberation Serif', 'Times New Roman', serif" font-size="32" font-weight="bold" text-anchor="middle" fill="#111">60</text>
<text x="849.1" y="2825.3" font-family="'Liberation Serif', 'Times New Roman', serif" font-size="32" font-weight="bold" text-anchor="middle" fill="#111">80</text>
<text x="1084.9" y="2825.3" font-family="'Liberation Serif', 'Times New Roman', serif" font-size="32" font-weight="bold" text-anchor="middle" fill="#111">100</text>
<text x="628" y="2405.3" font-family="'Liberation Sans', Arial, sans-serif" font-size="42.5" font-weight="bold" text-anchor="start" fill="#111">ZnO</text>
<text x="721" y="2892" font-family="'Liberation Serif', 'Times New Roman', serif" font-size="42" font-weight="bold" text-anchor="middle" fill="#111" letter-spacing="-0.65">Time (S)</text>
<text x="84.5" y="2373.3" font-family="'Liberation Serif', 'Times New Roman', serif" font-size="42.2" font-weight="bold" text-anchor="middle" fill="#111" transform="rotate(-90 84.5 2373.3)">Gas response (Ra/Rg)</text>
<text x="46" y="1993" font-family="'Liberation Serif', 'Times New Roman', serif" font-size="47" font-weight="bold" text-anchor="start" fill="#111">(e)</text>
<clipPath id="cf"><rect x="1441.2" y="1977.3" width="1001.2" height="789.2"/></clipPath>
<rect x="1442.2" y="1977.3" width="998.7" height="789.2" fill="none" stroke="#1a1a1a" stroke-width="3.6"/>
<line x1="1422.2" y1="2767.2" x2="1442.2" y2="2767.2" stroke="#1a1a1a" stroke-width="3.4"/>
<line x1="1422.2" y1="2635.5" x2="1442.2" y2="2635.5" stroke="#1a1a1a" stroke-width="3.4"/>
<line x1="1422.2" y1="2503.9" x2="1442.2" y2="2503.9" stroke="#1a1a1a" stroke-width="3.4"/>
<line x1="1422.2" y1="2372.2" x2="1442.2" y2="2372.2" stroke="#1a1a1a" stroke-width="3.4"/>
<line x1="1422.2" y1="2240.6" x2="1442.2" y2="2240.6" stroke="#1a1a1a" stroke-width="3.4"/>
<line x1="1422.2" y1="2108.9" x2="1442.2" y2="2108.9" stroke="#1a1a1a" stroke-width="3.4"/>
<line x1="1422.2" y1="1977.3" x2="1442.2" y2="1977.3" stroke="#1a1a1a" stroke-width="3.4"/>
<line x1="1433.2" y1="2701.4" x2="1442.2" y2="2701.4" stroke="#1a1a1a" stroke-width="3.4"/>
<line x1="1433.2" y1="2569.7" x2="1442.2" y2="2569.7" stroke="#1a1a1a" stroke-width="3.4"/>
<line x1="1433.2" y1="2438.1" x2="1442.2" y2="2438.1" stroke="#1a1a1a" stroke-width="3.4"/>
<line x1="1433.2" y1="2306.4" x2="1442.2" y2="2306.4" stroke="#1a1a1a" stroke-width="3.4"/>
<line x1="1433.2" y1="2174.8" x2="1442.2" y2="2174.8" stroke="#1a1a1a" stroke-width="3.4"/>
<line x1="1433.2" y1="2043.1" x2="1442.2" y2="2043.1" stroke="#1a1a1a" stroke-width="3.4"/>
<line x1="1618.6" y1="2766.5" x2="1618.6" y2="2789.5" stroke="#1a1a1a" stroke-width="3.4"/>
<line x1="1853.6" y1="2766.5" x2="1853.6" y2="2789.5" stroke="#1a1a1a" stroke-width="3.4"/>
<line x1="2088.6" y1="2766.5" x2="2088.6" y2="2789.5" stroke="#1a1a1a" stroke-width="3.4"/>
<line x1="2323.6" y1="2766.5" x2="2323.6" y2="2789.5" stroke="#1a1a1a" stroke-width="3.4"/>
<line x1="1501.1" y1="2766.5" x2="1501.1" y2="2779.5" stroke="#1a1a1a" stroke-width="3.4"/>
<line x1="1736.1" y1="2766.5" x2="1736.1" y2="2779.5" stroke="#1a1a1a" stroke-width="3.4"/>
<line x1="1971.1" y1="2766.5" x2="1971.1" y2="2779.5" stroke="#1a1a1a" stroke-width="3.4"/>
<line x1="2206.1" y1="2766.5" x2="2206.1" y2="2779.5" stroke="#1a1a1a" stroke-width="3.4"/>
<line x1="2441.1" y1="2766.5" x2="2441.1" y2="2779.5" stroke="#1a1a1a" stroke-width="3.4"/>
<g clip-path="url(#cf)">
<path d="M1670.7 2653.5L1673.4 2636.8M1681.5 2571.3L1685 2531.5M1691.4 2465.8L1696.2 2420.9M1705.4 2355.5L1706.9 2346.8M1715.7 2281.5L1716.5 2273.5M1737.7 2205.4L1741.5 2181M1750.6 2115.7L1753.3 2093M2091 2100.8L2096.8 2179.8M2103.2 2245.4L2106.9 2276.3M2125.4 2378.8L2131.7 2456.5M2135 2522.4L2137.4 2655.2" stroke="#0000ff" stroke-width="6.5" stroke-linecap="round" fill="none"/>
<circle cx="1454.1" cy="2681.6" r="25" fill="url(#gB)"/>
<circle cx="1465.8" cy="2682.9" r="25" fill="url(#gB)"/>
<circle cx="1477.6" cy="2680.3" r="25" fill="url(#gB)"/>
<circle cx="1489.3" cy="2681.6" r="25" fill="url(#gB)"/>
<circle cx="1501.1" cy="2680.3" r="25" fill="url(#gB)"/>
<circle cx="1512.8" cy="2680.3" r="25" fill="url(#gB)"/>
<circle cx="1524.6" cy="2679" r="25" fill="url(#gB)"/>
<circle cx="1536.3" cy="2680.3" r="25" fill="url(#gB)"/>
<circle cx="1548.1" cy="2681.6" r="25" fill="url(#gB)"/>
<circle cx="1559.8" cy="2682.9" r="25" fill="url(#gB)"/>
<circle cx="1571.6" cy="2684.3" r="25" fill="url(#gB)"/>
<circle cx="1583.3" cy="2681.6" r="25" fill="url(#gB)"/>
<circle cx="1595.1" cy="2672.4" r="25" fill="url(#gB)"/>
<circle cx="1606.8" cy="2680.3" r="25" fill="url(#gB)"/>
<circle cx="1618.6" cy="2682.9" r="25" fill="url(#gB)"/>
<circle cx="1630.3" cy="2681.6" r="25" fill="url(#gB)"/>
<circle cx="1642.1" cy="2672.4" r="25" fill="url(#gB)"/>
<circle cx="1653.8" cy="2680.3" r="25" fill="url(#gB)"/>
<circle cx="1665.6" cy="2686.1" r="25" fill="url(#gB)"/>
<circle cx="1678.5" cy="2604.2" r="25" fill="url(#gB)"/>
<circle cx="1687.9" cy="2498.6" r="25" fill="url(#gB)"/>
<circle cx="1699.7" cy="2388" r="25" fill="url(#gB)"/>
<circle cx="1712.6" cy="2314.3" r="25" fill="url(#gB)"/>
<circle cx="1719.6" cy="2240.6" r="25" fill="url(#gB)"/>
<circle cx="1732.6" cy="2238" r="25" fill="url(#gB)"/>
<circle cx="1746.7" cy="2148.4" r="25" fill="url(#gB)"/>
<circle cx="1757.2" cy="2060.2" r="25" fill="url(#gB)"/>
<circle cx="1763.7" cy="2080" r="25" fill="url(#gB)"/>
<circle cx="1774.9" cy="2077.4" r="25" fill="url(#gB)"/>
<circle cx="1793.7" cy="2068.7" r="25" fill="url(#gB)"/>
<circle cx="1804.2" cy="2035.5" r="25" fill="url(#gB)"/>
<circle cx="1813.1" cy="2044.7" r="25" fill="url(#gB)"/>
<circle cx="1820.7" cy="2047.3" r="25" fill="url(#gB)"/>
<circle cx="1841.8" cy="2036.8" r="25" fill="url(#gB)"/>
<circle cx="1847.7" cy="2057.6" r="25" fill="url(#gB)"/>
<circle cx="1858.3" cy="2053.7" r="25" fill="url(#gB)"/>
<circle cx="1868.9" cy="2050" r="25" fill="url(#gB)"/>
<circle cx="1881.8" cy="2050" r="25" fill="url(#gB)"/>
<circle cx="1893.5" cy="2052.6" r="25" fill="url(#gB)"/>
<circle cx="1905.3" cy="2050" r="25" fill="url(#gB)"/>
<circle cx="1921.8" cy="2035.5" r="25" fill="url(#gB)"/>
<circle cx="1931.1" cy="2053.7" r="25" fill="url(#gB)"/>
<circle cx="1946.4" cy="2028.6" r="25" fill="url(#gB)"/>
<circle cx="1957" cy="2057.1" r="25" fill="url(#gB)"/>
<circle cx="1971.1" cy="2023.9" r="25" fill="url(#gB)"/>
<circle cx="1975.8" cy="2045.8" r="25" fill="url(#gB)"/>
<circle cx="1991.1" cy="2028.6" r="25" fill="url(#gB)"/>
<circle cx="1996.9" cy="2040.5" r="25" fill="url(#gB)"/>
<circle cx="2015.8" cy="2032.3" r="25" fill="url(#gB)"/>
<circle cx="2022.8" cy="2050.2" r="25" fill="url(#gB)"/>
<circle cx="2031" cy="2032.6" r="25" fill="url(#gB)"/>
<circle cx="2052.8" cy="2023.9" r="25" fill="url(#gB)"/>
<circle cx="2061.6" cy="2045.8" r="25" fill="url(#gB)"/>
<circle cx="2075.7" cy="2053.7" r="25" fill="url(#gB)"/>
<circle cx="2088.6" cy="2067.9" r="25" fill="url(#gB)"/>
<circle cx="2099.2" cy="2212.7" r="25" fill="url(#gB)"/>
<circle cx="2110.9" cy="2309.1" r="25" fill="url(#gB)"/>
<circle cx="2122.7" cy="2345.9" r="25" fill="url(#gB)"/>
<circle cx="2134.4" cy="2489.4" r="25" fill="url(#gB)"/>
<circle cx="2137.9" cy="2688.2" r="25" fill="url(#gB)"/>
<circle cx="2147.3" cy="2685.6" r="25" fill="url(#gB)"/>
<circle cx="2154.4" cy="2682.9" r="25" fill="url(#gB)"/>
<circle cx="2167.3" cy="2680.3" r="25" fill="url(#gB)"/>
<circle cx="2180.2" cy="2706.6" r="25" fill="url(#gB)"/>
<circle cx="2189.6" cy="2664.5" r="25" fill="url(#gB)"/>
<circle cx="2203.8" cy="2685.6" r="25" fill="url(#gB)"/>
<circle cx="2215.5" cy="2700.1" r="25" fill="url(#gB)"/>
<circle cx="2228.4" cy="2714.5" r="25" fill="url(#gB)"/>
<circle cx="2236.6" cy="2672.4" r="25" fill="url(#gB)"/>
<circle cx="2249.6" cy="2680.3" r="25" fill="url(#gB)"/>
<circle cx="2259" cy="2688.2" r="25" fill="url(#gB)"/>
<circle cx="2268.4" cy="2664.5" r="25" fill="url(#gB)"/>
<circle cx="2280.1" cy="2661.9" r="25" fill="url(#gB)"/>
<circle cx="2291.9" cy="2665.8" r="25" fill="url(#gB)"/>
<circle cx="2303.6" cy="2669.8" r="25" fill="url(#gB)"/>
<circle cx="2315.4" cy="2672.4" r="25" fill="url(#gB)"/>
<circle cx="2327.1" cy="2675" r="25" fill="url(#gB)"/>
<circle cx="2338.9" cy="2679" r="25" fill="url(#gB)"/>
<circle cx="2350.6" cy="2682.9" r="25" fill="url(#gB)"/>
<circle cx="2362.4" cy="2686.9" r="25" fill="url(#gB)"/>
<circle cx="2374.1" cy="2689.5" r="25" fill="url(#gB)"/>
<circle cx="2385.9" cy="2692.2" r="25" fill="url(#gB)"/>
<circle cx="2397.6" cy="2694.8" r="25" fill="url(#gB)"/>
<circle cx="2409.4" cy="2696.1" r="25" fill="url(#gB)"/>
<circle cx="2421.1" cy="2698.2" r="25" fill="url(#gB)"/>
<circle cx="2432.9" cy="2700.1" r="25" fill="url(#gB)"/>
<circle cx="2444.6" cy="2701.4" r="25" fill="url(#gB)"/>
</g>
<text x="1407" y="2775.2" font-family="'Liberation Sans', Arial, sans-serif" font-size="31" font-weight="bold" text-anchor="end" fill="#111">0</text>
<text x="1407" y="2643.5" font-family="'Liberation Sans', Arial, sans-serif" font-size="31" font-weight="bold" text-anchor="end" fill="#111">5</text>
<text x="1407" y="2511.9" font-family="'Liberation Sans', Arial, sans-serif" font-size="31" font-weight="bold" text-anchor="end" fill="#111">10</text>
<text x="1407" y="2380.2" font-family="'Liberation Sans', Arial, sans-serif" font-size="31" font-weight="bold" text-anchor="end" fill="#111">15</text>
<text x="1407" y="2248.6" font-family="'Liberation Sans', Arial, sans-serif" font-size="31" font-weight="bold" text-anchor="end" fill="#111">20</text>
<text x="1407" y="2116.9" font-family="'Liberation Sans', Arial, sans-serif" font-size="31" font-weight="bold" text-anchor="end" fill="#111">25</text>
<text x="1407" y="1985.3" font-family="'Liberation Sans', Arial, sans-serif" font-size="31" font-weight="bold" text-anchor="end" fill="#111">30</text>
<text x="1618.6" y="2822" font-family="'Liberation Serif', 'Times New Roman', serif" font-size="32" font-weight="bold" text-anchor="middle" fill="#111">40</text>
<text x="1853.6" y="2822" font-family="'Liberation Serif', 'Times New Roman', serif" font-size="32" font-weight="bold" text-anchor="middle" fill="#111">60</text>
<text x="2088.6" y="2822" font-family="'Liberation Serif', 'Times New Roman', serif" font-size="32" font-weight="bold" text-anchor="middle" fill="#111">80</text>
<text x="2323.6" y="2822" font-family="'Liberation Serif', 'Times New Roman', serif" font-size="32" font-weight="bold" text-anchor="middle" fill="#111">100</text>
<text x="1736" y="2405" font-family="'Liberation Sans', Arial, sans-serif" font-size="42.9" font-weight="bold" text-anchor="start" fill="#111">ZIF-8-coated ZnO</text>
<text x="1959.4" y="2888.5" font-family="'Liberation Serif', 'Times New Roman', serif" font-size="45.5" font-weight="bold" text-anchor="middle" fill="#111" letter-spacing="-1.2">Time (S)</text>
<text x="1346" y="2375" font-family="'Liberation Serif', 'Times New Roman', serif" font-size="42.5" font-weight="bold" text-anchor="middle" fill="#111" transform="rotate(-90 1346 2375)">Gas response (Ra/Rg)</text>
<text x="1306" y="1993" font-family="'Liberation Serif', 'Times New Roman', serif" font-size="47" font-weight="bold" text-anchor="start" fill="#111">(f)</text>
<line x1="1272.6" y1="1948" x2="1272.6" y2="1959.5" stroke="#f1e6c8" stroke-width="1.6"/>
</svg></body></html>
